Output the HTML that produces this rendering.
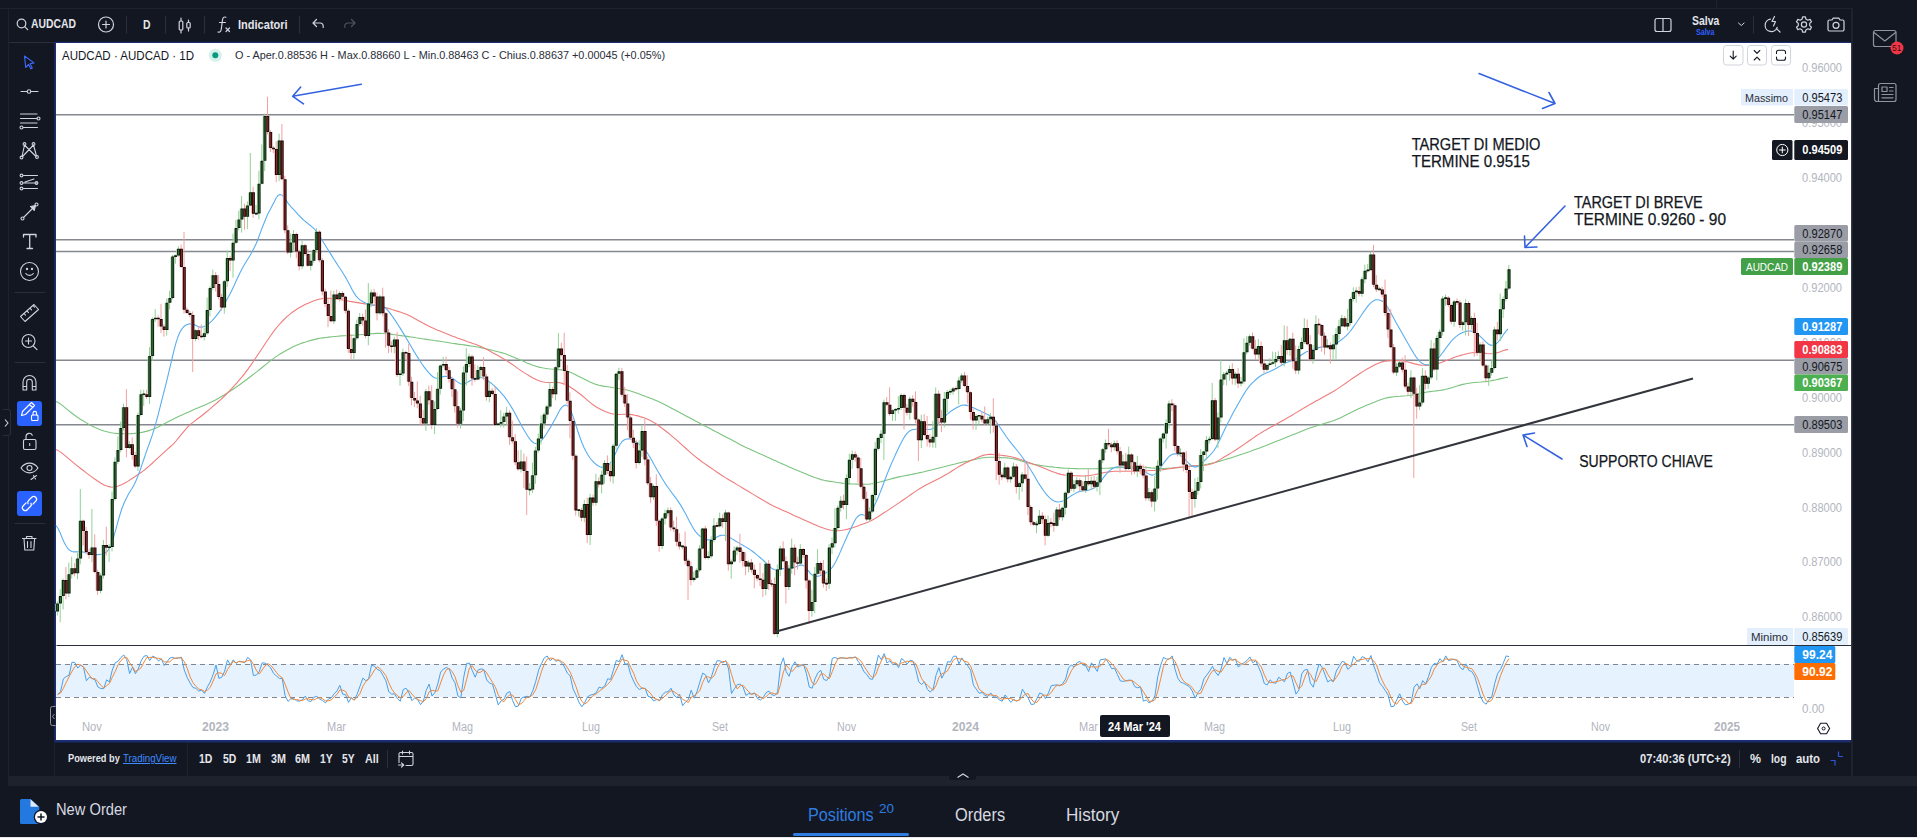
<!DOCTYPE html>
<html lang="it"><head><meta charset="utf-8"><title>AUDCAD</title>
<style>
html,body{margin:0;padding:0}
body{width:1917px;height:838px;position:relative;overflow:hidden;background:#131722;font-family:"Liberation Sans",Arial,sans-serif;color:#d1d4dc}
.abs{position:absolute}
.t{position:absolute;white-space:nowrap;line-height:1;transform-origin:0 50%}
.chart{position:absolute;left:0;top:0}
</style></head><body>
<div class="abs" style="left:0;top:8px;width:1852px;height:1px;background:#1e222d"></div>
<div class="abs" style="left:8px;top:41.5px;width:47px;height:1px;background:#2a2e39"></div>
<div class="abs" style="left:1716px;top:0;width:1px;height:8px;background:#1e222d"></div>
<div class="abs" style="left:8px;top:8px;width:1px;height:768px;background:#1e222d"></div>
<div class="abs" style="left:1851.2px;top:8px;width:1.6px;height:768px;background:#1e222d"></div>
<svg class="chart" width="1917" height="838" viewBox="0 0 1917 838" font-family="Liberation Sans, Arial, sans-serif">
<style>.ax{font-size:12px;fill:#b2b5be}</style>
<rect x="54.2" y="41.8" width="1796.9" height="700.8" rx="1.5" fill="#1b2d6e"/>
<rect x="56" y="43" width="1795.1" height="697" fill="#ffffff"/>
<text x="1802" y="72.3" class="ax" textLength="40" lengthAdjust="spacingAndGlyphs">0.96000</text><text x="1802" y="127.2" class="ax" textLength="40" lengthAdjust="spacingAndGlyphs">0.95000</text><text x="1802" y="182.1" class="ax" textLength="40" lengthAdjust="spacingAndGlyphs">0.94000</text><text x="1802" y="237.0" class="ax" textLength="40" lengthAdjust="spacingAndGlyphs">0.93000</text><text x="1802" y="291.9" class="ax" textLength="40" lengthAdjust="spacingAndGlyphs">0.92000</text><text x="1802" y="346.8" class="ax" textLength="40" lengthAdjust="spacingAndGlyphs">0.91000</text><text x="1802" y="401.7" class="ax" textLength="40" lengthAdjust="spacingAndGlyphs">0.90000</text><text x="1802" y="456.6" class="ax" textLength="40" lengthAdjust="spacingAndGlyphs">0.89000</text><text x="1802" y="511.5" class="ax" textLength="40" lengthAdjust="spacingAndGlyphs">0.88000</text><text x="1802" y="566.4" class="ax" textLength="40" lengthAdjust="spacingAndGlyphs">0.87000</text><text x="1802" y="621.3" class="ax" textLength="40" lengthAdjust="spacingAndGlyphs">0.86000</text><text x="1802" y="713.3" class="ax" textLength="22.5" lengthAdjust="spacingAndGlyphs">0.00</text>
<line x1="56" y1="114.8" x2="1794" y2="114.8" stroke="#85888f" stroke-width="1.5"/><line x1="56" y1="239.8" x2="1794" y2="239.8" stroke="#85888f" stroke-width="1.5"/><line x1="56" y1="251.5" x2="1794" y2="251.5" stroke="#85888f" stroke-width="1.5"/><line x1="56" y1="360.3" x2="1794" y2="360.3" stroke="#85888f" stroke-width="1.5"/><line x1="56" y1="424.7" x2="1794" y2="424.7" stroke="#85888f" stroke-width="1.5"/>

<rect x="56" y="664" width="1738" height="33" fill="#e6f2fd"/>
<line x1="56" y1="664.5" x2="1794" y2="664.5" stroke="#82858e" stroke-width="1" stroke-dasharray="5 4"/>
<line x1="56" y1="697.5" x2="1794" y2="697.5" stroke="#82858e" stroke-width="1" stroke-dasharray="5 4"/>
<polyline points="57.6,694.4 60.5,691.8 63.4,678.7 66.2,676.6 69.1,675.2 72,662.1 74.9,662.6 77.8,668.1 80.6,664.9 83.5,667.4 86.4,680.8 89.3,677.2 92.2,678.4 95,679.9 97.9,687 100.8,688.5 103.7,688.7 106.6,679.8 109.4,682 112.3,670.1 115.2,662.8 118.1,661.3 121,657.4 123.8,655 126.7,659.6 129.6,673.5 132.5,667.2 135.4,673.7 138.2,669 141.1,660.8 144,656.2 146.9,655.5 149.8,660.5 152.6,656.1 155.5,657.5 158.4,660.9 161.3,658.9 164.2,665.5 167,661.8 169.9,658 172.8,657.3 175.7,658.6 178.6,657.9 181.4,657.2 184.3,670.1 187.2,677.6 190.1,683 193,687.6 195.8,688.3 198.7,691.1 201.6,690 204.5,693.4 207.4,686.9 210.2,682 213.1,674.6 216,665.1 218.9,678.4 221.8,677.2 224.6,671.3 227.5,659.9 230.4,664.8 233.3,659.8 236.2,663.5 239,661.1 241.9,661.7 244.8,662.8 247.7,657.4 250.6,659.9 253.4,675.4 256.3,675.2 259.2,671.8 262.1,662.9 265,663.1 267.8,664.9 270.7,667.9 273.6,673.4 276.5,676 279.4,678.5 282.2,678.4 285.1,695.7 288,701.4 290.9,698.7 293.8,698.6 296.6,700.8 299.5,701.1 302.4,699.8 305.3,696.1 308.2,700.9 311,701.5 313.9,697.2 316.8,696.4 319.7,699.1 322.6,700.5 325.4,702.9 328.3,699.1 331.2,698 334.1,693.9 337,690.9 339.8,685.3 342.7,694.1 345.6,694.7 348.5,702.4 351.4,697.5 354.2,700.1 357.1,694.3 360,686.2 362.9,678.1 365.8,680.7 368.6,678.9 371.5,665.3 374.4,666.1 377.3,669.4 380.2,670.7 383,675.4 385.9,680.8 388.8,691.8 391.7,694 394.6,693.9 397.4,698.6 400.3,701.2 403.2,689.6 406.1,688.2 409,693 411.8,700.6 414.7,698.1 417.6,699.4 420.5,704.7 423.4,701 426.2,690.4 429.1,684.1 432,696 434.9,692.7 437.8,684 440.6,672.2 443.5,668.9 446.4,667.5 449.3,669 452.2,678.2 455,682.8 457.9,695.9 460.8,698 463.7,677.3 466.6,663.5 469.4,663.1 472.3,670.7 475.2,677.2 478.1,670 481,668.9 483.8,669.7 486.7,680 489.6,683.1 492.5,684.2 495.4,694.4 498.2,704.9 501.1,700.9 504,699.2 506.9,693.1 509.8,691.6 512.6,700.5 515.5,706.8 518.4,706 521.3,698.2 524.2,697 527,696.3 529.9,697 532.8,690.7 535.7,681.6 538.6,670.2 541.4,663.6 544.3,657.8 547.2,656 550.1,660.7 553,658.2 555.8,661.3 558.7,660.2 561.6,663.1 564.5,667 567.4,673.3 570.2,675.9 573.1,689.1 576,695 578.9,702.1 581.8,706.8 584.6,702.9 587.5,696.8 590.4,695.1 593.3,694.4 596.2,692.7 599,687.1 601.9,688.1 604.8,685.8 607.7,678.8 610.6,679.4 613.4,670.2 616.3,660.4 619.2,661.8 622.1,654.7 625,664.2 627.8,663.7 630.7,674.6 633.6,681.1 636.5,686.8 639.4,689.5 642.2,688.2 645.1,688.3 648,696.2 650.9,697.3 653.8,701.1 656.6,699.3 659.5,700.8 662.4,694.9 665.3,692.2 668.2,691.7 671,688.2 673.9,694.9 676.8,697.9 679.7,694.3 682.6,705.7 685.4,702.3 688.3,699.4 691.2,690.2 694.1,698.2 697,691.6 699.8,682.2 702.7,673.1 705.6,674.9 708.5,682.9 711.4,677.1 714.2,667.5 717.1,660.7 720,660.9 722.9,662.8 725.8,660.6 728.6,669 731.5,693.5 734.4,688.7 737.3,684.7 740.2,684.1 743,686.8 745.9,695.3 748.8,693.5 751.7,694.1 754.6,692.9 757.4,698.3 760.3,700.1 763.2,697.5 766.1,692.6 769,691.1 771.8,694.7 774.7,695.6 777.6,692 780.5,665.7 783.4,657.8 786.2,671.7 789.1,676.3 792,666.7 794.9,661.8 797.8,666.9 800.6,665.8 803.5,664.2 806.4,673.5 809.3,687.1 812.2,688.2 815,678.9 817.9,672.8 820.8,670.3 823.7,679.3 826.6,680.6 829.4,676.3 832.3,658.3 835.2,657.5 838.1,658.8 841,657.7 843.8,657.9 846.7,658.7 849.6,657.4 852.5,657.8 855.4,656.8 858.2,661.3 861.1,665.6 864,671.8 866.9,674.5 869.8,678.9 872.6,679.3 875.5,667.9 878.4,655.1 881.3,659.6 884.2,653.6 887,663 889.9,660.7 892.8,664.7 895.7,663.3 898.6,667.6 901.4,658.5 904.3,660.6 907.2,664.1 910.1,660.3 913,661.1 915.8,669.6 918.7,681.8 921.6,684.5 924.5,681.8 927.4,689.4 930.2,692 933.1,689.3 936,675.3 938.9,667.6 941.8,678.2 944.6,672.7 947.5,661.7 950.4,662.1 953.3,656.4 956.2,656.1 959,663.8 961.9,657.9 964.8,662.5 967.7,665.7 970.6,670.2 973.4,685.2 976.3,689.2 979.2,693.2 982.1,692.5 985,695.4 987.8,696.4 990.7,692.9 993.6,697 996.5,696.9 999.4,700 1002.2,701.2 1005.1,694.9 1008,698.7 1010.9,702.3 1013.8,699.4 1016.6,701.1 1019.5,699.7 1022.4,689.2 1025.3,693.8 1028.2,698 1031,704.3 1033.9,704.3 1036.8,698.7 1039.7,693 1042.6,694 1045.4,698.6 1048.3,693.3 1051.2,685.8 1054.1,685.2 1057,684.9 1059.8,685.8 1062.7,683.7 1065.6,679.1 1068.5,668 1071.4,665 1074.2,666.9 1077.1,662.7 1080,661.4 1082.9,664.9 1085.8,665.8 1088.6,671.5 1091.5,662.8 1094.4,666.9 1097.3,671.4 1100.2,659.9 1103,659.4 1105.9,658.9 1108.8,663.4 1111.7,668.7 1114.6,668.3 1117.4,674.5 1120.3,680.9 1123.2,681.4 1126.1,680.7 1129,680.1 1131.8,680.4 1134.7,686.6 1137.6,687.8 1140.5,686.9 1143.4,701.2 1146.2,700 1149.1,702.8 1152,701.1 1154.9,695.9 1157.8,676.4 1160.6,665.4 1163.5,657.4 1166.4,659 1169.3,659.2 1172.2,655.9 1175,669.1 1177.9,678.4 1180.8,682.3 1183.7,683.3 1186.6,685 1189.4,686.7 1192.3,691 1195.2,698.2 1198.1,692.3 1201,688.9 1203.8,679 1206.7,675.1 1209.6,671.1 1212.5,666.3 1215.4,672 1218.2,675.5 1221.1,669.1 1224,657.5 1226.9,663.6 1229.8,657.3 1232.6,660 1235.5,659.5 1238.4,667.1 1241.3,664.2 1244.2,662.7 1247,660.5 1249.9,656.9 1252.8,662.8 1255.7,660.6 1258.6,667.1 1261.4,673.6 1264.3,683.5 1267.2,684.9 1270.1,679.8 1273,682.6 1275.8,683.2 1278.7,677.2 1281.6,679.5 1284.5,681.7 1287.4,673.5 1290.2,672 1293.1,682.7 1296,694.1 1298.9,690 1301.8,673.7 1304.6,669.9 1307.5,669.5 1310.4,683.2 1313.3,687.2 1316.2,674.2 1319,664.1 1321.9,666.7 1324.8,674.1 1327.7,681.9 1330.6,680.1 1333.4,681.7 1336.3,671 1339.2,666.3 1342.1,661.4 1345,662.4 1347.8,669.3 1350.7,667 1353.6,656.3 1356.5,660.7 1359.4,661.3 1362.2,656.6 1365.1,657.8 1368,661.9 1370.9,655.5 1373.8,666 1376.6,673.4 1379.5,682.7 1382.4,686.2 1385.3,690.6 1388.2,695.1 1391,706.7 1393.9,706.3 1396.8,699.7 1399.7,693.8 1402.6,701.1 1405.4,704.9 1408.3,704.2 1411.2,702.2 1414.1,687.2 1417,683.8 1419.8,688.6 1422.7,680.6 1425.6,684 1428.5,676.6 1431.4,667.4 1434.2,663.4 1437.1,664.2 1440,658.7 1442.9,661.7 1445.8,655.9 1448.6,660.6 1451.5,659.8 1454.4,659.1 1457.3,661 1460.2,667.6 1463,669.8 1465.9,663.8 1468.8,670.3 1471.7,671.5 1474.6,676.1 1477.4,685.8 1480.3,695.9 1483.2,702 1486.1,704.2 1489,699.5 1491.8,696.8 1494.7,683.6 1497.6,673.5 1500.5,669.5 1503.4,662.8 1506.2,655.9 1509.1,656.7" fill="none" stroke="#4a9fe8" stroke-width="1"/>
<polyline points="57.6,694.4 60.5,693.1 63.4,688.3 66.2,682.4 69.1,676.8 72,671.3 74.9,666.6 77.8,664.2 80.6,665.2 83.5,666.8 86.4,671 89.3,675.1 92.2,678.8 95,678.5 97.9,681.8 100.8,685.2 103.7,688.1 106.6,685.7 109.4,683.5 112.3,677.3 115.2,671.6 118.1,664.7 121,660.5 123.8,657.9 126.7,657.3 129.6,662.7 132.5,666.8 135.4,671.5 138.2,670 141.1,667.8 144,662 146.9,657.5 149.8,657.4 152.6,657.4 155.5,658 158.4,658.2 161.3,659.1 164.2,661.8 167,662.1 169.9,661.8 172.8,659 175.7,658 178.6,657.9 181.4,657.9 184.3,661.7 187.2,668.3 190.1,676.9 193,682.7 195.8,686.3 198.7,689 201.6,689.8 204.5,691.5 207.4,690.1 210.2,687.4 213.1,681.1 216,673.9 218.9,672.7 221.8,673.5 224.6,675.6 227.5,669.5 230.4,665.3 233.3,661.5 236.2,662.7 239,661.4 241.9,662.1 244.8,661.8 247.7,660.6 250.6,660 253.4,664.2 256.3,670.2 259.2,674.1 262.1,670 265,665.9 267.8,663.6 270.7,665.3 273.6,668.7 276.5,672.5 279.4,676 282.2,677.6 285.1,684.2 288,691.8 290.9,698.6 293.8,699.6 296.6,699.4 299.5,700.2 302.4,700.6 305.3,699 308.2,698.9 311,699.5 313.9,699.9 316.8,698.4 319.7,697.6 322.6,698.7 325.4,700.8 328.3,700.8 331.2,700 334.1,697 337,694.3 339.8,690 342.7,690.1 345.6,691.3 348.5,697.1 351.4,698.2 354.2,700 357.1,697.3 360,693.5 362.9,686.2 365.8,681.6 368.6,679.2 371.5,675 374.4,670.1 377.3,666.9 380.2,668.7 383,671.8 385.9,675.6 388.8,682.7 391.7,688.9 394.6,693.2 397.4,695.5 400.3,697.9 403.2,696.5 406.1,693 409,690.3 411.8,693.9 414.7,697.2 417.6,699.4 420.5,700.7 423.4,701.7 426.2,698.7 429.1,691.9 432,690.2 434.9,691 437.8,690.9 440.6,683 443.5,675 446.4,669.6 449.3,668.5 452.2,671.6 455,676.7 457.9,685.6 460.8,692.2 463.7,690.4 466.6,679.6 469.4,668 472.3,665.8 475.2,670.3 478.1,672.6 481,672 483.8,669.6 486.7,672.9 489.6,677.6 492.5,682.4 495.4,687.2 498.2,694.5 501.1,700.1 504,701.7 506.9,697.7 509.8,694.6 512.6,695.1 515.5,699.6 518.4,704.5 521.3,703.7 524.2,700.4 527,697.2 529.9,696.8 532.8,694.7 535.7,689.8 538.6,680.9 541.4,671.8 544.3,663.9 547.2,659.1 550.1,658.1 553,658.3 555.8,660.1 558.7,659.9 561.6,661.5 564.5,663.4 567.4,667.8 570.2,672.1 573.1,679.4 576,686.6 578.9,695.4 581.8,701.3 584.6,704 587.5,702.2 590.4,698.3 593.3,695.4 596.2,694 599,691.4 601.9,689.3 604.8,687 607.7,684.2 610.6,681.3 613.4,676.1 616.3,670 619.2,664.1 622.1,659 625,660.3 627.8,660.9 630.7,667.5 633.6,673.1 636.5,680.9 639.4,685.8 642.2,688.2 645.1,688.7 648,690.9 650.9,693.9 653.8,698.2 656.6,699.2 659.5,700.4 662.4,698.3 665.3,695.9 668.2,692.9 671,690.7 673.9,691.6 676.8,693.7 679.7,695.7 682.6,699.3 685.4,700.8 688.3,702.5 691.2,697.3 694.1,695.9 697,693.3 699.8,690.7 702.7,682.3 705.6,676.7 708.5,677 711.4,678.3 714.2,675.8 717.1,668.4 720,663 722.9,661.5 725.8,661.5 728.6,664.1 731.5,674.4 734.4,683.7 737.3,689 740.2,685.8 743,685.2 745.9,688.7 748.8,691.9 751.7,694.3 754.6,693.5 757.4,695.1 760.3,697.1 763.2,698.6 766.1,696.7 769,693.7 771.8,692.8 774.7,693.8 777.6,694.1 780.5,684.5 783.4,671.9 786.2,665.1 789.1,668.6 792,671.6 794.9,668.3 797.8,665.2 800.6,664.8 803.5,665.6 806.4,667.8 809.3,674.9 812.2,682.9 815,684.7 817.9,680 820.8,674 823.7,674.1 826.6,676.7 829.4,678.7 832.3,671.7 835.2,664 838.1,658.2 841,658 843.8,658.1 846.7,658.1 849.6,658 852.5,658 855.4,657.4 858.2,658.6 861.1,661.2 864,666.2 866.9,670.6 869.8,675.1 872.6,677.6 875.5,675.4 878.4,667.4 881.3,660.9 884.2,656.1 887,658.7 889.9,659.1 892.8,662.8 895.7,662.9 898.6,665.2 901.4,663.1 904.3,662.2 907.2,661.1 910.1,661.7 913,661.9 915.8,663.7 918.7,670.8 921.6,678.6 924.5,682.7 927.4,685.2 930.2,687.7 933.1,690.3 936,685.6 938.9,677.4 941.8,673.7 944.6,672.8 947.5,670.9 950.4,665.5 953.3,660.1 956.2,658.2 959,658.8 961.9,659.3 964.8,661.4 967.7,662 970.6,666.1 973.4,673.7 976.3,681.6 979.2,689.2 982.1,691.6 985,693.7 987.8,694.8 990.7,694.9 993.6,695.4 996.5,695.6 999.4,698 1002.2,699.4 1005.1,698.7 1008,698.3 1010.9,698.6 1013.8,700.1 1016.6,700.9 1019.5,700.1 1022.4,696.7 1025.3,694.2 1028.2,693.6 1031,698.7 1033.9,702.2 1036.8,702.4 1039.7,698.7 1042.6,695.2 1045.4,695.2 1048.3,695.3 1051.2,692.6 1054.1,688.1 1057,685.3 1059.8,685.3 1062.7,684.8 1065.6,682.9 1068.5,676.9 1071.4,670.7 1074.2,666.6 1077.1,664.9 1080,663.7 1082.9,663 1085.8,664 1088.6,667.4 1091.5,666.7 1094.4,667.1 1097.3,667 1100.2,666 1103,663.6 1105.9,659.4 1108.8,660.5 1111.7,663.6 1114.6,666.8 1117.4,670.5 1120.3,674.6 1123.2,679 1126.1,681 1129,680.7 1131.8,680.4 1134.7,682.4 1137.6,684.9 1140.5,687.1 1143.4,691.9 1146.2,696 1149.1,701.3 1152,701.3 1154.9,699.9 1157.8,691.1 1160.6,679.2 1163.5,666.4 1166.4,660.6 1169.3,658.5 1172.2,658 1175,661.4 1177.9,667.8 1180.8,676.6 1183.7,681.3 1186.6,683.5 1189.4,685 1192.3,687.6 1195.2,692 1198.1,693.8 1201,693.1 1203.8,686.7 1206.7,681 1209.6,675.1 1212.5,670.9 1215.4,669.8 1218.2,671.3 1221.1,672.2 1224,667.4 1226.9,663.4 1229.8,659.5 1232.6,660.3 1235.5,658.9 1238.4,662.2 1241.3,663.6 1244.2,664.7 1247,662.5 1249.9,660 1252.8,660.1 1255.7,660.1 1258.6,663.5 1261.4,667.1 1264.3,674.7 1267.2,680.7 1270.1,682.7 1273,682.4 1275.8,681.8 1278.7,681 1281.6,680 1284.5,679.5 1287.4,678.2 1290.2,675.7 1293.1,676 1296,682.9 1298.9,688.9 1301.8,685.9 1304.6,677.9 1307.5,671 1310.4,674.2 1313.3,680 1316.2,681.5 1319,675.2 1321.9,668.4 1324.8,668.3 1327.7,674.3 1330.6,678.7 1333.4,681.2 1336.3,677.6 1339.2,673 1342.1,666.2 1345,663.4 1347.8,664.4 1350.7,666.3 1353.6,664.2 1356.5,661.4 1359.4,659.5 1362.2,659.6 1365.1,658.6 1368,658.8 1370.9,658.4 1373.8,661.1 1376.6,665 1379.5,674 1382.4,680.8 1385.3,686.5 1388.2,690.6 1391,697.5 1393.9,702.7 1396.8,704.2 1399.7,699.9 1402.6,698.2 1405.4,699.9 1408.3,703.4 1411.2,703.7 1414.1,697.9 1417,691.1 1419.8,686.5 1422.7,684.3 1425.6,684.4 1428.5,680.4 1431.4,676 1434.2,669.1 1437.1,665 1440,662.1 1442.9,661.5 1445.8,658.8 1448.6,659.4 1451.5,658.8 1454.4,659.8 1457.3,660 1460.2,662.6 1463,666.1 1465.9,667.1 1468.8,668 1471.7,668.6 1474.6,672.7 1477.4,677.8 1480.3,685.9 1483.2,694.5 1486.1,700.7 1489,701.9 1491.8,700.2 1494.7,693.3 1497.6,684.7 1500.5,675.6 1503.4,668.6 1506.2,662.8 1509.1,658.5" fill="none" stroke="#f0883a" stroke-width="1"/>


<polyline points="56,401.5 59,403 62,405.1 65,407.6 68,410.1 71,412.5 74,414.8 77,417 80,419 83,420.8 86,422.6 89,424.4 92,426 95,427.5 98,428.8 101,430 104,431 107,431.8 110,432.5 113,433 116,433.4 119,433.6 122,433.7 125,433.8 128,433.7 131,433.6 134,433.4 137,433.1 140,432.7 143,432.1 146,431.4 149,430.6 152,429.6 155,428.4 158,427 161,425.5 164,423.9 167,422.3 170,420.7 173,419.2 176,417.7 179,416.2 182,414.9 185,413.6 188,412.2 191,410.9 194,409.6 197,408.3 200,407 203,405.7 206,404.4 209,403.1 212,401.7 215,400.2 218,398.6 221,396.8 224,395 227,393.1 230,391.2 233,389.3 236,387.3 239,385.2 242,383 245,380.8 248,378.5 251,376.2 254,373.9 257,371.6 260,369.2 263,366.8 266,364.4 269,361.9 272,359.6 275,357.4 278,355.4 281,353.5 284,351.8 287,350.1 290,348.4 293,346.8 296,345.4 299,344.2 302,343.1 305,342.2 308,341.2 311,340.4 314,339.6 317,338.9 320,338.3 323,337.9 326,337.5 329,337.1 332,336.8 335,336.5 338,336.2 341,335.9 344,335.8 347,335.6 350,335.4 353,335.2 356,335 359,334.7 362,334.5 365,334.3 368,334 371,333.8 374,333.6 377,333.4 380,333.4 383,333.5 386,333.7 389,334 392,334.4 395,334.8 398,335.2 401,335.6 404,336 407,336.4 410,336.9 413,337.3 416,337.8 419,338.2 422,338.7 425,339.1 428,339.6 431,340 434,340.5 437,340.9 440,341.3 443,341.8 446,342.2 449,342.7 452,343.2 455,343.6 458,344.1 461,344.5 464,344.9 467,345.4 470,345.9 473,346.3 476,346.8 479,347.3 482,347.9 485,348.5 488,349.2 491,350 494,350.8 497,351.5 500,352.2 503,353.1 506,354.1 509,355.2 512,356.4 515,357.7 518,359 521,360.3 524,361.6 527,362.9 530,364.1 533,365.3 536,366.3 539,367.1 542,367.8 545,368.3 548,368.7 551,369 554,369.2 557,369.4 560,369.6 563,370.1 566,370.8 569,371.8 572,373 575,374.5 578,376 581,377.5 584,379 587,380.5 590,382 593,383.3 596,384.4 599,385.3 602,385.9 605,386.4 608,386.8 611,387.3 614,387.8 617,388.2 620,388.7 623,389.2 626,389.8 629,390.5 632,391.4 635,392.4 638,393.6 641,394.7 644,395.8 647,396.9 650,398.1 653,399.2 656,400.4 659,401.8 662,403.2 665,404.7 668,406.3 671,407.9 674,409.5 677,411.1 680,412.7 683,414.3 686,415.9 689,417.5 692,419.1 695,420.7 698,422.3 701,423.9 704,425.5 707,427 710,428.6 713,430.2 716,431.8 719,433.3 722,434.9 725,436.5 728,438.1 731,439.6 734,441.2 737,442.8 740,444.4 743,445.9 746,447.4 749,448.8 752,450.2 755,451.6 758,452.9 761,454.2 764,455.6 767,457 770,458.3 773,459.7 776,461 779,462.4 782,463.7 785,465.1 788,466.4 791,467.7 794,469.1 797,470.3 800,471.6 803,472.8 806,474 809,475.2 812,476.4 815,477.6 818,478.6 821,479.6 824,480.3 827,480.9 830,481.4 833,481.8 836,482.3 839,482.7 842,483.1 845,483.4 848,483.7 851,483.9 854,484 857,484.1 860,484.2 863,484.3 866,484.3 869,484.1 872,483.8 875,483.3 878,482.5 881,481.7 884,480.9 887,480 890,479.2 893,478.4 896,477.6 899,476.9 902,476.3 905,475.7 908,475.1 911,474.5 914,473.9 917,473.3 920,472.6 923,472 926,471.2 929,470.5 932,469.8 935,469 938,468.2 941,467.5 944,466.8 947,466 950,465.2 953,464.5 956,463.8 959,463 962,462.3 965,461.6 968,461 971,460.3 974,459.6 977,459 980,458.3 983,457.8 986,457.5 989,457.3 992,457.2 995,457.4 998,457.5 1001,457.6 1004,457.7 1007,457.9 1010,458.3 1013,458.8 1016,459.4 1019,460.2 1022,461.1 1025,461.9 1028,462.8 1031,463.6 1034,464.3 1037,464.9 1040,465.4 1043,465.8 1046,466.2 1049,466.6 1052,466.9 1055,467.3 1058,467.6 1061,467.9 1064,468.1 1067,468.2 1070,468.4 1073,468.5 1076,468.6 1079,468.7 1082,468.8 1085,468.8 1088,468.8 1091,468.8 1094,468.7 1097,468.6 1100,468.4 1103,468.3 1106,468.2 1109,468.1 1112,467.9 1115,467.8 1118,467.6 1121,467.4 1124,467.2 1127,467 1130,466.9 1133,466.8 1136,466.8 1139,466.9 1142,467 1145,467.3 1148,467.6 1151,467.9 1154,468.1 1157,468.3 1160,468.4 1163,468.5 1166,468.4 1169,468.2 1172,468 1175,467.8 1178,467.6 1181,467.3 1184,467.1 1187,466.8 1190,466.5 1193,466.1 1196,465.7 1199,465.3 1202,464.9 1205,464.5 1208,464 1211,463.4 1214,462.7 1217,461.9 1220,461.1 1223,460.2 1226,459.3 1229,458.4 1232,457.4 1235,456.5 1238,455.5 1241,454.5 1244,453.5 1247,452.4 1250,451.4 1253,450.3 1256,449.2 1259,448.2 1262,447 1265,445.9 1268,444.7 1271,443.5 1274,442.3 1277,441.1 1280,439.9 1283,438.7 1286,437.5 1289,436.3 1292,435.1 1295,433.9 1298,432.7 1301,431.5 1304,430.3 1307,429.1 1310,428 1313,427 1316,426 1319,425.1 1322,424.2 1325,423.3 1328,422.4 1331,421.5 1334,420.4 1337,419.2 1340,417.9 1343,416.5 1346,415 1349,413.5 1352,412 1355,410.5 1358,409.1 1361,407.7 1364,406.4 1367,405.1 1370,403.9 1373,402.7 1376,401.5 1379,400.3 1382,399.2 1385,398.3 1388,397.6 1391,397.1 1394,396.8 1397,396.5 1400,396.3 1403,396 1406,395.8 1409,395.5 1412,395.1 1415,394.5 1418,393.9 1421,393.2 1424,392.6 1427,392 1430,391.6 1433,391.2 1436,390.9 1439,390.5 1442,390.1 1445,389.5 1448,388.7 1451,387.9 1454,386.9 1457,386 1460,385.1 1463,384.4 1466,383.8 1469,383.2 1472,382.8 1475,382.5 1478,382.2 1481,382 1484,381.7 1487,381.4 1490,381 1493,380.4 1496,379.8 1499,379.1 1502,378.4 1505,377.8 1508,377.3" fill="none" stroke="#7cc47f" stroke-width="1.1"/>
<polyline points="56,449.5 59,451.1 62,453.1 65,455.7 68,458.2 71,460.7 74,463.2 77,465.6 80,468 83,470.3 86,472.6 89,474.9 92,477.1 95,479.3 98,481.3 101,483.2 104,484.9 107,486.1 110,486.9 113,487.2 116,486.8 119,485.8 122,484.5 125,482.9 128,481.1 131,479.2 134,477.3 137,475.3 140,473.3 143,471.1 146,468.7 149,466.2 152,463.5 155,460.7 158,457.9 161,455.1 164,452.4 167,449.7 170,447 173,444.3 176,441 179,437.3 182,433.6 185,430.1 188,426.6 191,423.8 194,421.6 197,419.3 200,417 203,414.7 206,412.3 209,409.8 212,407.2 215,404.6 218,402 221,399.3 224,396.5 227,393.5 230,390.4 233,387.1 236,383.8 239,380.4 242,376.9 245,373.1 248,369.1 251,364.9 254,360.5 257,356 260,351.5 263,347 266,342.5 269,338 272,333.7 275,329.7 278,326 281,322.6 284,319.5 287,316.7 290,314.1 293,311.8 296,309.7 299,307.8 302,306.2 305,304.6 308,303.2 311,301.9 314,300.7 317,299.7 320,299 323,298.5 326,298.3 329,298.4 332,298.6 335,298.9 338,299.3 341,299.7 344,300.2 347,300.8 350,301.4 353,301.9 356,302.4 359,302.9 362,303.4 365,303.9 368,304.3 371,304.8 374,305.2 377,305.7 380,306.3 383,307 386,307.8 389,308.6 392,309.6 395,310.5 398,311.4 401,312.3 404,313.4 407,314.6 410,316.1 413,317.6 416,319.2 419,320.9 422,322.6 425,324.2 428,325.8 431,327.2 434,328.6 437,329.9 440,331.1 443,332.3 446,333.5 449,334.7 452,335.9 455,337 458,338.2 461,339.2 464,340.3 467,341.4 470,342.4 473,343.5 476,344.5 479,345.8 482,347.1 485,348.5 488,350.1 491,351.8 494,353.4 497,355.1 500,356.7 503,358.4 506,360.3 509,362.2 512,364.3 515,366.4 518,368.6 521,370.6 524,372.6 527,374.4 530,376.2 533,377.9 536,379.5 539,380.8 542,381.7 545,382.3 548,382.5 551,382.5 554,382.5 557,382.5 560,382.8 563,383.6 566,384.7 569,386.2 572,388.2 575,390.3 578,392.5 581,394.8 584,397.2 587,399.8 590,402.4 593,404.7 596,406.7 599,408.5 602,410.1 605,411.4 608,412.6 611,413.5 614,414.2 617,414.5 620,414.5 623,414.3 626,414.2 629,414.3 632,414.6 635,415.2 638,415.9 641,416.9 644,417.8 647,418.9 650,420.3 653,421.9 656,423.8 659,426 662,428.2 665,430.5 668,432.8 671,435.3 674,437.8 677,440.4 680,443.1 683,445.8 686,448.5 689,451.2 692,453.8 695,456.3 698,458.7 701,461 704,463.1 707,465.2 710,467.3 713,469.4 716,471.5 719,473.5 722,475.5 725,477.4 728,479.2 731,481 734,482.8 737,484.6 740,486.4 743,488.2 746,490 749,491.8 752,493.6 755,495.4 758,497.2 761,499 764,500.8 767,502.5 770,504.2 773,505.8 776,507.2 779,508.6 782,510 785,511.3 788,512.6 791,514 794,515.4 797,516.7 800,518.1 803,519.4 806,520.8 809,522.1 812,523.5 815,524.8 818,526.1 821,527.2 824,528.3 827,529.3 830,530 833,530.5 836,530.7 839,530.7 842,530.3 845,529.8 848,529.1 851,528.2 854,527.2 857,526.2 860,525.1 863,524.1 866,522.9 869,521.7 872,520.2 875,518.5 878,516.7 881,514.8 884,512.8 887,510.9 890,508.9 893,506.9 896,504.9 899,502.9 902,500.8 905,498.7 908,496.6 911,494.5 914,492.4 917,490.4 920,488.5 923,486.7 926,485 929,483.5 932,482 935,480.5 938,479 941,477.5 944,475.8 947,474.1 950,472.3 953,470.3 956,468.4 959,466.6 962,464.9 965,463.3 968,461.9 971,460.5 974,459.2 977,457.8 980,456.5 983,455.4 986,454.7 989,454.4 992,454.4 995,454.7 998,455 1001,455.3 1004,455.6 1007,456 1010,456.5 1013,457.2 1016,458.1 1019,459.1 1022,460.1 1025,461.1 1028,462.2 1031,463.3 1034,464.4 1037,465.5 1040,466.6 1043,467.8 1046,469 1049,470.2 1052,471.4 1055,472.6 1058,473.6 1061,474.4 1064,474.9 1067,475.3 1070,475.5 1073,475.6 1076,475.8 1079,475.9 1082,476 1085,475.9 1088,475.6 1091,475.2 1094,474.7 1097,474.1 1100,473.4 1103,472.8 1106,472.3 1109,471.9 1112,471.5 1115,471.3 1118,471.2 1121,471.2 1124,471.2 1127,471.2 1130,471.2 1133,471.2 1136,471.2 1139,471.1 1142,471 1145,470.8 1148,470.7 1151,470.5 1154,470.4 1157,470.2 1160,469.9 1163,469.6 1166,469.2 1169,468.8 1172,468.4 1175,467.9 1178,467.4 1181,467 1184,466.7 1187,466.3 1190,466.1 1193,465.9 1196,465.8 1199,465.6 1202,465.5 1205,465.3 1208,464.8 1211,464 1214,462.9 1217,461.4 1220,459.6 1223,457.8 1226,456 1229,454.2 1232,452.4 1235,450.5 1238,448.5 1241,446.5 1244,444.4 1247,442.3 1250,440.2 1253,438.1 1256,436 1259,434.1 1262,432.2 1265,430.4 1268,428.7 1271,427 1274,425.4 1277,423.7 1280,422.1 1283,420.4 1286,418.7 1289,416.9 1292,415.2 1295,413.4 1298,411.6 1301,409.8 1304,407.9 1307,406.2 1310,404.4 1313,402.7 1316,401 1319,399.4 1322,397.7 1325,396.1 1328,394.4 1331,392.7 1334,391 1337,389.1 1340,387.1 1343,385.1 1346,383 1349,380.9 1352,378.8 1355,376.7 1358,374.7 1361,372.7 1364,370.9 1367,369.1 1370,367.4 1373,365.8 1376,364.2 1379,362.9 1382,361.9 1385,361.3 1388,360.9 1391,360.8 1394,360.7 1397,360.6 1400,360.7 1403,361 1406,361.5 1409,362.2 1412,363.1 1415,363.9 1418,364.6 1421,365.1 1424,365.3 1427,365.4 1430,365.2 1433,364.7 1436,364.1 1439,363.3 1442,362.2 1445,361.1 1448,359.9 1451,358.8 1454,357.6 1457,356.6 1460,355.6 1463,354.7 1466,354 1469,353.3 1472,352.8 1475,352.6 1478,352.6 1481,352.8 1484,353.1 1487,353.5 1490,353.7 1493,353.5 1496,353 1499,352.2 1502,351.1 1505,350.1 1508,349.4" fill="none" stroke="#ef7d7d" stroke-width="1.1"/>
<polyline points="56,525.5 58,528.5 60,532.5 62,537.5 64,541.9 66,545.7 68,548.7 70,550.6 72,551.5 74,551.9 76,551.9 78,551.7 80,551.7 82,551.9 84,552.2 86,552.8 88,553.4 90,553.9 92,554.3 94,554.6 96,554.6 98,554.6 100,554.4 102,554.2 104,553.4 106,552.2 108,550.4 110,547.1 112,542 114,535.8 116,528.9 118,521.4 120,514.5 122,508.3 124,503.3 126,498.9 128,495 130,491.5 132,488.5 134,484.9 136,480.7 138,475.9 140,470.5 142,464.6 144,458.7 146,452.9 148,447.1 150,441.7 152,435.9 154,429.6 156,422.6 158,415.3 160,407.3 162,399.4 164,391.6 166,383.8 168,375.7 170,367.1 172,358.6 174,350.4 176,342.9 178,336.7 180,332.1 182,328.8 184,326.5 186,325 188,324.2 190,323.9 192,324 194,324.6 196,325.6 198,326.6 200,327.1 202,327.1 204,326.6 206,325.6 208,324.2 210,322.6 212,320.8 214,318.6 216,316.2 218,313.6 220,310.9 222,307.9 224,304.7 226,301.3 228,297.6 230,293.9 232,289.9 234,285.7 236,281.2 238,276.9 240,272.8 242,268.9 244,265.3 246,262 248,258.8 250,255.5 252,252 254,248.1 256,243.9 258,239.2 260,233.6 262,228.3 264,223.2 266,218.2 268,213.6 270,209.9 272,206 274,202.2 276,198.3 278,195.5 280,194.5 282,195.2 284,197 286,200.1 288,203.1 290,205.7 292,207.8 294,209.9 296,212.1 298,214.4 300,216.5 302,218.5 304,220.3 306,222 308,223.6 310,225.2 312,226.8 314,228.7 316,231 318,233.7 320,236.7 322,240 324,243.2 326,246.5 328,249.7 330,252.9 332,256.1 334,259.3 336,262.4 338,265.5 340,268.5 342,271.5 344,274.7 346,278.1 348,281.7 350,285.5 352,289.5 354,292.9 356,295.8 358,298.1 360,299.9 362,301.1 364,302.3 366,303.3 368,304.1 370,304.6 372,304.9 374,305 376,305 378,305 380,305.1 382,305.8 384,306.9 386,308.5 388,310.6 390,313.2 392,315.8 394,318.6 396,321.6 398,324.7 400,327.9 402,331.1 404,334.4 406,337.7 408,341.1 410,344.5 412,348 414,351.4 416,354.7 418,357.9 420,361 422,364 424,366.8 426,369.4 428,371.8 430,374 432,376 434,377.4 436,378.2 438,378.4 440,378 442,377 444,376.4 446,376.2 448,376.4 450,377 452,378 454,379.3 456,380.9 458,382.4 460,383.5 462,384.1 464,384 466,383.1 468,381.9 470,380.8 472,379.8 474,378.9 476,378.1 478,377.6 480,377.4 482,377.7 484,378.3 486,379.4 488,380.7 490,382.2 492,383.8 494,385.6 496,387.5 498,389.5 500,391.6 502,393.8 504,396.2 506,398.9 508,401.8 510,404.8 512,408.1 514,411.5 516,415.2 518,419 520,422.8 522,426.5 524,430 526,433.3 528,436.5 530,439.4 532,441.5 534,442.9 536,443.6 538,443.2 540,441.8 542,439.9 544,437.4 546,434.5 548,431.3 550,428.1 552,424.7 554,421.1 556,417.4 558,413.5 560,409.8 562,407.1 564,405.5 566,405 568,406.1 570,409.2 572,413.6 574,419.1 576,425.4 578,431.8 580,437.5 582,442.7 584,447.4 586,451.5 588,455 590,458 592,460.5 594,462.5 596,464.3 598,465.8 600,466.8 602,467.4 604,467.4 606,466.9 608,465.7 610,463.5 612,460.5 614,456.5 616,452.2 618,448 620,444.5 622,441.7 624,440 626,439.2 628,438.8 630,439 632,439.8 634,440.7 636,441.9 638,443.2 640,444.8 642,446.5 644,448.6 646,451.1 648,454 650,457.2 652,460.8 654,464.4 656,468 658,471.5 660,474.9 662,478.3 664,481.5 666,484.6 668,487.5 670,490.3 672,493 674,495.7 676,498.3 678,501.1 680,504.1 682,507.4 684,510.9 686,514.6 688,518.4 690,522.2 692,526.1 694,529.4 696,532.2 698,534.4 700,536.2 702,537.4 704,538.6 706,539.4 708,539.9 710,539.8 712,539.4 714,538.5 716,537.5 718,536.5 720,535.6 722,535.2 724,535.2 726,535.6 728,536.5 730,537.6 732,538.9 734,540 736,541.2 738,542.4 740,543.6 742,544.8 744,545.9 746,547.1 748,548.3 750,549.6 752,551 754,552.5 756,554.2 758,555.8 760,557.5 762,559.2 764,561 766,562.9 768,565 770,567 772,568.6 774,569.6 776,570 778,569.8 780,569.3 782,568.9 784,568.5 786,568.3 788,568.2 790,568 792,567.8 794,567.4 796,566.8 798,565.9 800,565.1 802,565 804,565.9 806,567.8 808,570.4 810,573 812,574.8 814,575.9 816,576.2 818,576.1 820,575.7 822,575 824,574 826,572.8 828,571.4 830,569.8 832,567.6 834,564.8 836,561.3 838,557.1 840,552.6 842,548 844,543.4 846,539 848,534.6 850,530.4 852,526.2 854,522 856,518.5 858,516.2 860,514.8 862,514.5 864,515.2 866,515.5 868,514.8 870,513 872,510.3 874,506.5 876,502.3 878,497.8 880,492.9 882,487.8 884,482.4 886,477 888,471.9 890,467 892,462.4 894,457.9 896,453.5 898,449.2 900,445.1 902,441.3 904,437.6 906,434.6 908,432.4 910,430.8 912,429.8 914,429.5 916,429.2 918,429.1 920,429 922,429 924,429.1 926,429.2 928,429.5 930,429.5 932,428.9 934,427.8 936,426.3 938,424.2 940,421.9 942,419.7 944,417.5 946,415.4 948,413.6 950,411.9 952,410.5 954,409.3 956,408.1 958,407 960,405.9 962,405.2 964,405 966,405.1 968,405.6 970,406.5 972,407.3 974,408.1 976,409 978,409.9 980,410.8 982,411.8 984,412.8 986,413.8 988,414.8 990,415.9 992,417.4 994,419.2 996,421.6 998,424.2 1000,427.2 1002,430.2 1004,433.2 1006,436.2 1008,439 1010,441.6 1012,444.2 1014,446.6 1016,449 1018,451.5 1020,454 1022,456.7 1024,459.6 1026,462.5 1028,465.6 1030,468.7 1032,472 1034,475.3 1036,478.8 1038,482.2 1040,485.4 1042,488.4 1044,491.3 1046,493.9 1048,496.2 1050,498.1 1052,499.8 1054,500.9 1056,501.6 1058,502 1060,501.8 1062,501.2 1064,500.4 1066,499.3 1068,498 1070,496.6 1072,495.3 1074,494.1 1076,492.9 1078,492 1080,491.4 1082,491 1084,490.8 1086,490.6 1088,490.2 1090,489.7 1092,489 1094,488.1 1096,486.7 1098,484.9 1100,482.5 1102,479.7 1104,476.9 1106,474.4 1108,472.2 1110,470.3 1112,468.8 1114,467.7 1116,467 1118,466.7 1120,466.8 1122,467.3 1124,467.7 1126,468 1128,468.2 1130,468.3 1132,468.3 1134,468.5 1136,468.7 1138,469.1 1140,469.7 1142,470.3 1144,471.2 1146,472.3 1148,473.6 1150,474.6 1152,475.1 1154,474.7 1156,473.4 1158,471.2 1160,468.4 1162,465.5 1164,462.7 1166,460.1 1168,457.7 1170,455.7 1172,454.6 1174,453.9 1176,453.8 1178,454.1 1180,455.1 1182,456.5 1184,458.3 1186,460.4 1188,462.6 1190,464.5 1192,466.1 1194,466.9 1196,466.9 1198,466.4 1200,465.1 1202,463.1 1204,461.1 1206,459 1208,457.1 1210,455.1 1212,453 1214,450.5 1216,447.3 1218,443.6 1220,439.6 1222,435.3 1224,431 1226,426.8 1228,422.8 1230,418.9 1232,415 1234,411.3 1236,407.7 1238,404.2 1240,400.7 1242,397.3 1244,393.9 1246,390.7 1248,387.9 1250,385.4 1252,383.2 1254,381.3 1256,379.5 1258,377.8 1260,376.3 1262,375 1264,373.9 1266,373 1268,372.2 1270,371.4 1272,370.5 1274,369.5 1276,368.4 1278,367.3 1280,366.1 1282,364.9 1284,363.8 1286,362.8 1288,361.9 1290,361.2 1292,360.5 1294,359.6 1296,358.6 1298,357.4 1300,356 1302,354.5 1304,353.2 1306,352.1 1308,351.2 1310,350.5 1312,349.8 1314,349.1 1316,348.5 1318,347.9 1320,347.4 1322,346.9 1324,346.5 1326,346.2 1328,345.9 1330,345.6 1332,345.1 1334,344.4 1336,343.4 1338,342.2 1340,340.8 1342,339.3 1344,337.7 1346,335.9 1348,333.8 1350,331.5 1352,328.9 1354,326.1 1356,323.2 1358,320.3 1360,317.3 1362,314.3 1364,311.4 1366,308.6 1368,305.9 1370,303.6 1372,301.9 1374,300.6 1376,299.8 1378,299.8 1380,300.3 1382,301 1384,302.6 1386,305 1388,307.9 1390,311.3 1392,315.1 1394,318.8 1396,322.5 1398,326 1400,329.5 1402,333 1404,336.5 1406,340 1408,343.5 1410,347 1412,350.4 1414,353.8 1416,356.9 1418,359.5 1420,361.6 1422,363.2 1424,364.3 1426,364.8 1428,364.9 1430,364.7 1432,363.9 1434,362.5 1436,360.8 1438,358.7 1440,356.1 1442,353.5 1444,350.8 1446,348 1448,345.4 1450,342.8 1452,340.4 1454,338.3 1456,336.6 1458,335.1 1460,333.8 1462,332.8 1464,332 1466,331.4 1468,331 1470,331 1472,331.4 1474,332.1 1476,333.1 1478,334.5 1480,336.2 1482,338.1 1484,340.1 1486,342.2 1488,343.8 1490,344.9 1492,345.4 1494,345.1 1496,343.9 1498,342.1 1500,339.8 1502,336.9 1504,333.8 1506,331.1 1508,329" fill="none" stroke="#5aaef0" stroke-width="1.1"/>


<path d="M57.3 601.2V615.5M60.2 589.1V622.2M63.1 578.6V609.5M68.8 562.5V597.1M71.7 556.7V578.5M77.5 552.7V579.3M80.3 489V564.3M91.9 509V562M100.5 573.2V593.2M103.4 540V578.6M109.1 544V561.9M112 491.5V551.4M114.9 457.2V500.6M117.8 436.5V464.3M120.7 421.6V452.3M123.5 403.7V430.7M129.3 441.1V449.2M137.9 412.8V471.1M140.8 389.7V416.5M143.7 389.9V405.9M149.5 347.2V403.8M152.3 317.3V361M155.2 309.1V322M166.7 298.7V335.5M169.6 290.7V309.5M172.5 254.8V299.3M175.4 254.5V263.7M178.3 246.2V256.8M195.5 329.3V341.2M204.2 327.6V340.5M207.1 297.6V334.9M209.9 286.1V316.4M212.8 269.5V290.3M224.3 279.8V313.7M227.2 250.5V287.1M233 233.5V277.6M235.9 220V243.9M238.7 210.9V230.5M241.6 196.1V232.6M247.4 201.4V229M250.3 153V206.3M256 205V215.4M258.9 170.7V219.4M261.8 144.4V184.5M264.7 113.6V171.1M279.1 133.6V181.2M290.6 233.5V257.4M293.5 230.1V250.4M302.1 240.8V269.1M310.7 253.8V270.5M313.6 249V262.8M316.5 228.2V252.8M333.8 290.6V324M339.5 291.4V301.5M353.9 336.7V359.2M356.8 319.5V339.9M359.7 313V326.1M368.3 283V345.3M371.2 289.6V307.1M379.9 294.7V314.7M394.3 336.8V353.4M400 370.1V385.7M402.9 348.7V376M425.9 389.1V430.9M434.6 401.4V434.2M437.5 372.2V409.9M440.3 364.6V394.5M443.2 356.9V367.4M460.5 407.8V428.5M463.4 366.3V421.1M466.3 348V385.6M469.1 353.7V367.2M477.8 365.5V380.4M480.7 365.6V378.1M489.3 381.5V402.3M497.9 422.4V426.1M500.8 410.2V427.5M503.7 412.9V427.7M506.6 406.8V426M521 449.8V472.5M529.6 483.1V495.3M532.5 462.6V492.9M535.4 446.8V483.8M538.3 433.7V452.7M541.1 415.4V444.5M544 412.5V428.8M546.9 404.9V419.4M549.8 382.4V408.7M555.5 366.5V400.4M558.4 333V370.2M578.6 509.1V516.7M584.3 499.8V522.3M590.1 493.9V545.1M595.9 473.7V505.6M601.6 470.5V493.5M604.5 460.2V483.7M613.1 443.9V483.6M616 373V450.2M618.9 367.7V380M639.1 440.2V464.6M641.9 425.7V456.8M653.5 484.6V500M662.1 517.3V549.1M665 509.7V524.5M667.9 507.4V516.6M682.3 544.9V549.4M693.8 571.7V581.9M696.7 568.3V579M699.5 545.3V571.8M702.4 527.7V549.3M708.2 551.3V559.5M711.1 536.4V558.4M713.9 518.1V542.3M719.7 512.6V527.4M725.5 509.8V541M731.2 559.4V578.7M734.1 546.4V562.9M737 545.8V555.2M748.5 560.5V572.4M765.8 562.5V595.4M777.3 564.4V637.5M780.2 545.7V576.2M788.8 565V590.1M791.7 538.6V573.7M800.3 544.2V564.8M811.9 589.7V616.5M814.7 567.1V613.3M817.6 549.1V574.7M829.1 544V588.9M832 537.4V554.3M834.9 508.2V547.5M837.8 505.5V530.7M840.7 496.2V511.7M846.4 474.4V519.2M849.3 453.8V484.3M852.2 450.6V468.9M869.5 507.3V522.1M872.3 493.7V512.9M875.2 442V500.9M878.1 436.5V450.7M881 430.1V443.1M883.9 399.6V459.9M892.5 409.2V420.9M895.4 408.1V420.9M898.3 396.3V413.6M901.1 393.4V410.2M909.8 396.5V419.6M921.3 414.7V448.1M932.8 421.1V447.7M935.7 387.5V447.8M944.3 392V427.4M947.2 390V412.5M950.1 388.9V395.3M953 387V394.6M958.7 377.3V404.5M961.6 373.3V382.8M976 414.2V429.9M978.9 414.9V426M987.5 416.7V424.8M990.4 412.9V433.7M1004.8 462.8V478.5M1010.6 475.8V482.7M1013.5 462.7V477.6M1019.2 482.2V499.8M1022.1 472.2V491.8M1036.5 520.9V533.3M1039.4 510V524.9M1048 515.6V536.8M1056.7 507V526.6M1062.4 506.7V520.6M1065.3 491.6V514.7M1068.2 469.5V494.4M1073.9 480.1V492.1M1076.8 477.1V488.6M1085.5 475.2V492.7M1091.2 476.5V489.7M1097 476.6V491.4M1099.9 458.6V495.2M1102.7 448V463.2M1105.6 439.5V452.9M1114.3 440.6V450.6M1122.9 454.6V466.8M1128.7 446.6V470.1M1137.3 455.8V477M1148.8 487.9V500.8M1154.6 476V511.4M1157.5 460.4V499.7M1160.3 437.4V472M1163.2 432.7V442.5M1166.1 419.3V448.6M1169 400.5V428.5M1180.5 448.3V456.7M1194.9 478.3V507.7M1197.8 477.2V494.9M1200.7 449V488.5M1203.5 450.7V471.1M1206.4 436.2V459.3M1209.3 436.2V443.5M1212.2 382.9V440.2M1217.9 412.4V448.3M1220.8 360.1V422.6M1223.7 372V385.2M1226.6 370.9V385.3M1229.5 365.4V380.6M1235.2 371.6V385M1241 376.9V386.3M1243.9 338.3V383.7M1246.7 336.2V354.5M1249.6 334.5V345.6M1258.3 339.1V358.7M1266.9 363.3V371.3M1269.8 357.9V366.4M1272.7 351.6V364.7M1275.5 352V367M1278.4 351.3V360.6M1284.2 325.5V366.5M1289.9 337.9V355.9M1298.6 345.6V374.2M1301.5 337.5V350M1304.3 318.2V343.9M1313 344.9V363.8M1315.9 315.3V350.9M1327.4 339.2V348.4M1333.1 335V359.5M1336 328.2V359.4M1338.9 319.9V339.7M1341.8 315V327.2M1347.5 308.9V330.5M1350.4 297.4V325.1M1353.3 287.3V301.5M1356.2 287.2V302.8M1361.9 276.8V296.8M1364.8 264.6V283.2M1367.7 264V272.6M1370.6 251.6V258M1379.2 286.5V290.2M1396.5 363.1V375.9M1399.4 360.5V367.8M1410.9 370.3V398M1419.5 385.2V410M1422.4 368.1V404.5M1428.2 376.2V388.9M1431.1 340.2V379.6M1436.8 335.4V380.3M1439.7 329.1V355.8M1442.6 296.1V335.5M1445.5 294.5V305.8M1454.1 300V326.7M1462.7 320.9V330.5M1465.6 299.2V335.4M1471.4 316.2V329.7M1480 342V360.3M1488.7 365.1V385.9M1491.5 360.7V375.5M1494.4 326.7V369.3M1500.2 293.6V341M1503.1 296.4V318M1505.9 280.9V301.5M1508.8 265V290" stroke="#93d097" stroke-width="1" fill="none"/>
<path d="M65.9 567V599.4M74.6 563.1V576.4M83.2 519.6V545.6M86.1 526.9V554M89 549.2V558.9M94.7 534.2V573M97.6 569.8V594.8M106.3 526.8V555.5M126.4 389.1V457.2M132.2 437.4V459.8M135.1 451.7V468.1M146.6 389.7V398.9M158.1 315.4V326.8M161 303.8V333M163.9 324.2V336.6M181.1 244.5V268M184 232V313.7M186.9 307.3V313.8M189.8 310.9V317.1M192.7 311.4V372M198.4 326.3V340.1M201.3 324.4V338.5M215.7 271.9V291.5M218.6 275.1V299.3M221.5 293.8V310.7M230.1 255.7V271.1M244.5 203.6V229.6M253.1 186.6V217.9M267.5 96.7V134.4M270.4 130V152M273.3 146.1V153.2M276.2 141.3V182.3M281.9 124V180.1M284.8 175.8V233.3M287.7 225.4V254.2M296.3 232.6V258.3M299.2 249.6V270.4M305 243.8V255.7M307.9 248.9V266.7M319.4 230.2V262.4M322.3 258V295.3M325.1 288.6V307.2M328 297.8V327.1M330.9 290.6V322.4M336.7 289.5V300.2M342.4 291V300.2M345.3 295.9V313.5M348.2 308.9V352.9M351.1 334.4V359.1M362.6 313.6V325.7M365.5 309.5V338.3M374.1 288.8V303.4M377 292.7V320.4M382.7 287.7V316.3M385.6 312.2V347.9M388.5 329V353M391.4 341.2V352.6M397.1 331.8V377M405.8 350.7V359.2M408.7 344V386M411.5 376.8V405.2M414.4 391.9V407.1M417.3 381.3V408.3M420.2 395.7V424.7M423.1 409.9V426M428.8 385.5V404.9M431.7 385.3V429.1M446.1 356.6V374.5M449 366.8V382.5M451.9 376.6V397.1M454.7 380.3V412.5M457.6 391.3V427.6M472 354.7V385.7M474.9 364.4V381.7M483.5 357.2V380.1M486.4 373.8V400.7M492.2 388.2V395.4M495.1 386.6V426.3M509.5 410.3V444.9M512.3 420.6V443.5M515.2 434.1V465.3M518.1 450.2V470.8M523.9 453.5V488.1M526.7 456.5V515M552.7 386.7V398.1M561.3 342.8V356.5M564.2 332.8V385.3M567.1 365V404.2M569.9 392.3V438.3M572.8 417.4V459.6M575.7 454.5V515.7M581.5 507.8V521.1M587.2 497.6V543.1M593 494.6V505.9M598.7 477.6V487.6M607.4 455.4V473.9M610.3 463.9V481.6M621.8 367.9V396.6M624.7 386.7V407M627.5 394.1V430.2M630.4 415.5V440M633.3 429.8V448.1M636.2 439.7V468.6M644.8 419V465.4M647.7 456.6V485.2M650.6 477V502.8M656.3 474.3V525.8M659.2 519.5V551.7M670.7 507.5V530.8M673.6 520.8V531.8M676.5 516.7V546.2M679.4 533.3V549.5M685.1 531.4V564.3M688 558.7V600M690.9 561.5V585.3M705.3 525.7V559.5M716.8 522.2V527.3M722.6 514.2V527.7M728.3 511.6V570.7M739.9 533.8V562.7M742.7 550.4V566.6M745.6 552.4V575.1M751.4 559V572.6M754.3 564.7V588.4M757.1 573.8V581.2M760 562.9V586M762.9 573V597.1M768.7 559.9V590M771.5 579.7V586.9M774.4 577.4V635M783.1 541.3V562.2M785.9 556.5V603.5M794.6 544.6V575.2M797.5 556.7V569.6M803.2 548.1V557.8M806.1 553.8V588.6M809 578.9V624M820.5 561.5V574.7M823.4 560V587.6M826.3 578.5V591M843.5 494.5V509.3M855.1 451.2V461.7M857.9 455.2V482.7M860.8 458.1V488.5M863.7 483.1V500.2M866.6 491.7V521.1M886.7 397.1V406.2M889.6 387.4V415.9M904 393.5V429.4M906.9 404.1V415.4M912.7 395.3V406.6M915.5 391.4V423.4M918.4 418.4V461.1M924.2 414V436.1M927.1 416V446.6M929.9 434.2V447.2M938.6 390.5V425.3M941.5 410V432.1M955.9 386.4V391.1M964.5 371.9V387M967.4 375.2V403.5M970.3 391.3V419.7M973.1 408.5V429.5M981.8 411V422.2M984.7 406.4V424.9M993.3 398.3V432.6M996.2 420.8V480.1M999.1 452.6V484.7M1001.9 472.5V480.2M1007.7 466.4V482.4M1016.3 464.1V493.4M1025 461.7V480.5M1027.9 462.4V514.9M1030.7 505.2V525.3M1033.6 520.8V526.1M1042.3 512.2V523.8M1045.1 515.4V545.3M1050.9 518.1V527.3M1053.8 512.8V531.8M1059.5 504V519.8M1071.1 471.2V491.1M1079.7 478.4V491.5M1082.6 481.2V491.5M1088.3 469.1V485.9M1094.1 476.1V488.8M1108.5 428.8V446.3M1111.4 442.3V452.3M1117.1 440.3V454.4M1120 447V472.9M1125.8 453V471.4M1131.5 453.3V474.9M1134.4 461.3V474.1M1140.2 463.5V474.4M1143.1 464.6V478.3M1145.9 465.9V500.7M1151.7 490.5V507.2M1171.9 399.2V411.3M1174.7 403.4V451M1177.6 445.1V456.4M1183.4 451.6V471.3M1186.3 451.1V473M1189.1 466.2V516.7M1192 488.6V516.7M1215.1 398V441.2M1232.3 363.2V384.6M1238.1 368.2V388M1252.5 332.7V349.6M1255.4 340V359.3M1261.1 341.5V366.8M1264 359.2V373.6M1281.3 344.9V365.2M1287.1 326.1V354.6M1292.8 332.7V368.8M1295.7 345.4V373.9M1307.2 319.5V345.4M1310.1 335.1V361.5M1318.7 318.4V334.4M1321.6 324.1V351.6M1324.5 332.5V354.7M1330.3 342.5V363.7M1344.7 316V327.6M1359.1 286.5V296.4M1373.5 244.8V287.1M1376.3 275.1V292M1382.1 286.6V297.3M1385 279.6V315.8M1387.9 306.8V337.9M1390.7 309.3V348.1M1393.6 343.9V374.2M1402.3 357.7V372.4M1405.1 355.2V388.9M1408 382.7V395.6M1413.8 376.6V478M1416.7 387.6V418.8M1425.3 370.3V389.4M1433.9 342.8V371.1M1448.3 296.1V306.7M1451.2 303.6V324.3M1457 298.3V305M1459.9 300.2V328M1468.5 301.2V335.9M1474.3 312.8V356.7M1477.1 322.9V355.8M1482.9 341.4V366.9M1485.8 364.1V381.4M1497.3 321.9V340.3" stroke="#f2a0a0" stroke-width="1" fill="none"/>
<path d="M55.3 603.7h2.4V611.1h-2.4zM58.2 596.4h2.4V603.1h-2.4zM61.1 580.2h2.4V595.8h-2.4zM66.8 574.5h2.4V593.2h-2.4zM69.7 568.5h2.4V573.9h-2.4zM75.5 558.7h2.4V573h-2.4zM78.3 521h2.4V558.1h-2.4zM89.9 547.7h2.4V554.7h-2.4zM98.5 575.7h2.4V590.4h-2.4zM101.4 545.3h2.4V575.1h-2.4zM107.1 546.8h2.4V547.8h-2.4zM110 499.3h2.4V546.7h-2.4zM112.9 462h2.4V498.7h-2.4zM115.8 450.2h2.4V461.4h-2.4zM118.7 428.3h2.4V449.6h-2.4zM121.5 407.5h2.4V427.7h-2.4zM127.3 444.5h2.4V447.8h-2.4zM135.9 415.3h2.4V466.1h-2.4zM138.8 394.6h2.4V414.7h-2.4zM141.7 393.8h2.4V394.8h-2.4zM147.5 356.4h2.4V396.6h-2.4zM150.3 319.4h2.4V355.8h-2.4zM153.2 318h2.4V319h-2.4zM164.7 303h2.4V329.7h-2.4zM167.6 298.3h2.4V302.4h-2.4zM170.5 256.8h2.4V297.7h-2.4zM173.4 255.6h2.4V256.6h-2.4zM176.3 249h2.4V255.3h-2.4zM193.5 330.5h2.4V338.7h-2.4zM202.2 333.5h2.4V336.6h-2.4zM205.1 310.3h2.4V332.9h-2.4zM207.9 288.4h2.4V309.7h-2.4zM210.8 275.6h2.4V287.8h-2.4zM222.3 281.6h2.4V307.3h-2.4zM225.2 258.3h2.4V281h-2.4zM231 243.1h2.4V260.3h-2.4zM233.9 228.4h2.4V242.5h-2.4zM236.7 219.7h2.4V227.8h-2.4zM239.6 208.7h2.4V219.1h-2.4zM245.4 205.7h2.4V216.5h-2.4zM248.3 192.6h2.4V205.1h-2.4zM254 213.1h2.4V214.1h-2.4zM256.9 184h2.4V213.1h-2.4zM259.8 161.1h2.4V183.4h-2.4zM262.7 116.4h2.4V160.5h-2.4zM277.1 140.8h2.4V174.8h-2.4zM288.6 242.9h2.4V252.1h-2.4zM291.5 234.3h2.4V242.3h-2.4zM300.1 245.6h2.4V265.9h-2.4zM308.7 261.1h2.4V265.4h-2.4zM311.6 250.4h2.4V260.5h-2.4zM314.5 232.1h2.4V249.8h-2.4zM331.8 294.8h2.4V320.9h-2.4zM337.5 293.2h2.4V298.7h-2.4zM351.9 338.6h2.4V352.8h-2.4zM354.8 324.2h2.4V338h-2.4zM357.7 317.3h2.4V323.6h-2.4zM366.3 303.8h2.4V335.7h-2.4zM369.2 292.7h2.4V303.2h-2.4zM377.9 296.8h2.4V313h-2.4zM392.3 339.7h2.4V346.4h-2.4zM398 373.8h2.4V374.8h-2.4zM400.9 352.5h2.4V373.3h-2.4zM423.9 391.6h2.4V423.3h-2.4zM432.6 409.3h2.4V424.6h-2.4zM435.5 389h2.4V408.7h-2.4zM438.3 365.9h2.4V388.4h-2.4zM441.2 364.3h2.4V365.3h-2.4zM458.5 410.9h2.4V423.5h-2.4zM461.4 372.7h2.4V410.3h-2.4zM464.3 364.3h2.4V372.1h-2.4zM467.1 356.7h2.4V363.7h-2.4zM475.8 370.2h2.4V379.1h-2.4zM478.7 367.2h2.4V369.6h-2.4zM487.3 391h2.4V396.6h-2.4zM495.9 423.8h2.4V424.8h-2.4zM498.8 422.4h2.4V423.4h-2.4zM501.7 416.8h2.4V421.8h-2.4zM504.6 413.1h2.4V416.2h-2.4zM519 461.7h2.4V469h-2.4zM527.6 489.1h2.4V490.1h-2.4zM530.5 475.6h2.4V489.3h-2.4zM533.4 450.7h2.4V475h-2.4zM536.3 438.7h2.4V450.1h-2.4zM539.1 423.7h2.4V438.1h-2.4zM542 414.8h2.4V423.1h-2.4zM544.9 406.9h2.4V414.2h-2.4zM547.8 389.4h2.4V406.3h-2.4zM553.5 367.6h2.4V393.9h-2.4zM556.4 348.9h2.4V367h-2.4zM576.6 509.6h2.4V510.6h-2.4zM582.3 504.3h2.4V517.4h-2.4zM588.1 497.9h2.4V534.7h-2.4zM593.9 481.6h2.4V502.5h-2.4zM599.6 475.1h2.4V484.3h-2.4zM602.5 463.4h2.4V474.5h-2.4zM611.1 446h2.4V476h-2.4zM614 374.1h2.4V445.4h-2.4zM616.9 371.6h2.4V373.5h-2.4zM637.1 450.8h2.4V462.7h-2.4zM639.9 431.3h2.4V450.2h-2.4zM651.5 486.3h2.4V497h-2.4zM660.1 518.8h2.4V545.8h-2.4zM663 513.6h2.4V518.2h-2.4zM665.9 510.6h2.4V513h-2.4zM680.3 545.9h2.4V546.9h-2.4zM691.8 578h2.4V579.8h-2.4zM694.7 570.6h2.4V577.4h-2.4zM697.5 548.8h2.4V570h-2.4zM700.4 528.9h2.4V548.2h-2.4zM706.2 556.6h2.4V557.7h-2.4zM709.1 540.2h2.4V556h-2.4zM711.9 525.9h2.4V539.6h-2.4zM717.7 518.6h2.4V525.9h-2.4zM723.5 512.7h2.4V521.7h-2.4zM729.2 561.7h2.4V563.9h-2.4zM732.1 550.9h2.4V561.1h-2.4zM735 547.8h2.4V550.3h-2.4zM746.5 562.9h2.4V566.2h-2.4zM763.8 564h2.4V588.7h-2.4zM775.3 569.9h2.4V633.8h-2.4zM778.2 548.7h2.4V569.3h-2.4zM786.8 568.9h2.4V586.8h-2.4zM789.7 548.1h2.4V568.3h-2.4zM798.3 549.3h2.4V563.2h-2.4zM809.9 602.4h2.4V610.8h-2.4zM812.7 574.1h2.4V601.8h-2.4zM815.6 563.3h2.4V573.5h-2.4zM827.1 547.7h2.4V583.5h-2.4zM830 543.5h2.4V547.1h-2.4zM832.9 528.3h2.4V542.9h-2.4zM835.8 508.1h2.4V527.7h-2.4zM838.7 501h2.4V507.5h-2.4zM844.4 478.4h2.4V504.8h-2.4zM847.3 460h2.4V477.8h-2.4zM850.2 454.6h2.4V459.4h-2.4zM867.5 511.8h2.4V519.1h-2.4zM870.3 495.3h2.4V511.2h-2.4zM873.2 449.1h2.4V494.7h-2.4zM876.1 438.3h2.4V448.5h-2.4zM879 434h2.4V437.7h-2.4zM881.9 402.5h2.4V433.4h-2.4zM890.5 410.5h2.4V413.8h-2.4zM893.4 409.3h2.4V410.3h-2.4zM896.3 408.2h2.4V409.2h-2.4zM899.1 395.4h2.4V407.8h-2.4zM907.8 399h2.4V412.5h-2.4zM919.3 421.5h2.4V439.9h-2.4zM930.8 437.1h2.4V442.3h-2.4zM933.7 394h2.4V436.5h-2.4zM942.3 399.1h2.4V422.3h-2.4zM945.2 392.3h2.4V398.5h-2.4zM948.1 391.3h2.4V392.3h-2.4zM951 388.9h2.4V391.2h-2.4zM956.7 380.8h2.4V388.6h-2.4zM959.6 375.7h2.4V380.2h-2.4zM974 416.2h2.4V420.1h-2.4zM976.9 415.3h2.4V416.3h-2.4zM985.5 419.6h2.4V423.2h-2.4zM988.4 417.1h2.4V419h-2.4zM1002.8 467.8h2.4V477h-2.4zM1008.6 477.1h2.4V478.9h-2.4zM1011.5 466.8h2.4V476.5h-2.4zM1017.2 483.5h2.4V486.8h-2.4zM1020.1 474.8h2.4V482.9h-2.4zM1034.5 523.9h2.4V524.9h-2.4zM1037.4 516h2.4V523.7h-2.4zM1046 523.4h2.4V535.5h-2.4zM1054.7 509.9h2.4V525.5h-2.4zM1060.4 508.1h2.4V517h-2.4zM1063.3 493h2.4V507.5h-2.4zM1066.2 473.1h2.4V492.4h-2.4zM1071.9 484.5h2.4V488.5h-2.4zM1074.8 480.6h2.4V483.9h-2.4zM1083.5 481.4h2.4V489.9h-2.4zM1089.2 481h2.4V483.9h-2.4zM1095 482.6h2.4V486.5h-2.4zM1097.9 460.5h2.4V482h-2.4zM1100.7 449.5h2.4V459.9h-2.4zM1103.6 443.2h2.4V448.9h-2.4zM1112.3 443.5h2.4V447h-2.4zM1120.9 461.7h2.4V465.2h-2.4zM1126.7 454.7h2.4V468.7h-2.4zM1135.3 466.1h2.4V471h-2.4zM1146.8 492.6h2.4V498h-2.4zM1152.6 488.9h2.4V501.3h-2.4zM1155.5 466h2.4V488.3h-2.4zM1158.3 438.7h2.4V465.4h-2.4zM1161.2 433.9h2.4V438.1h-2.4zM1164.1 423.2h2.4V433.3h-2.4zM1167 403.8h2.4V422.6h-2.4zM1178.5 452.7h2.4V453.7h-2.4zM1192.9 491.1h2.4V498.6h-2.4zM1195.8 482.2h2.4V490.5h-2.4zM1198.7 455.2h2.4V481.6h-2.4zM1201.5 451.8h2.4V454.6h-2.4zM1204.4 440.4h2.4V451.2h-2.4zM1207.3 439h2.4V440h-2.4zM1210.2 400.6h2.4V438.6h-2.4zM1215.9 417.7h2.4V439.2h-2.4zM1218.8 379.9h2.4V417.1h-2.4zM1221.7 374.5h2.4V379.3h-2.4zM1224.6 373.1h2.4V374.1h-2.4zM1227.5 369.4h2.4V372.7h-2.4zM1233.2 374h2.4V378.3h-2.4zM1239 381.7h2.4V383.2h-2.4zM1241.9 352.6h2.4V381.1h-2.4zM1244.7 343h2.4V352h-2.4zM1247.6 336.6h2.4V342.4h-2.4zM1256.3 346.2h2.4V354.2h-2.4zM1264.9 365.2h2.4V369.5h-2.4zM1267.8 363.8h2.4V364.8h-2.4zM1270.7 362.5h2.4V363.5h-2.4zM1273.5 359.4h2.4V362h-2.4zM1276.4 356.2h2.4V358.8h-2.4zM1282.2 340.5h2.4V362.4h-2.4zM1287.9 339h2.4V349.6h-2.4zM1296.6 349.4h2.4V370.3h-2.4zM1299.5 342.4h2.4V348.8h-2.4zM1302.3 328.2h2.4V341.8h-2.4zM1311 350.3h2.4V358.9h-2.4zM1313.9 324.4h2.4V349.7h-2.4zM1325.4 345.6h2.4V347.3h-2.4zM1331.1 344.8h2.4V349h-2.4zM1334 334.2h2.4V344.2h-2.4zM1336.9 326.6h2.4V333.6h-2.4zM1339.8 318.5h2.4V326h-2.4zM1345.5 323.4h2.4V326.1h-2.4zM1348.4 299.4h2.4V322.8h-2.4zM1351.3 292.2h2.4V298.8h-2.4zM1354.2 290.9h2.4V291.9h-2.4zM1359.9 279.6h2.4V293.4h-2.4zM1362.8 271h2.4V279h-2.4zM1365.7 269.9h2.4V270.9h-2.4zM1368.6 254.7h2.4V269.9h-2.4zM1377.2 288.9h2.4V289.9h-2.4zM1394.5 367.1h2.4V372.3h-2.4zM1397.4 362.9h2.4V366.5h-2.4zM1408.9 377.9h2.4V391.5h-2.4zM1417.5 402.9h2.4V406.3h-2.4zM1420.4 376.1h2.4V402.3h-2.4zM1426.2 377.7h2.4V383.5h-2.4zM1429.1 348.7h2.4V377.1h-2.4zM1434.8 338.3h2.4V369.3h-2.4zM1437.7 332h2.4V337.7h-2.4zM1440.6 298.8h2.4V331.4h-2.4zM1443.5 297.6h2.4V298.6h-2.4zM1452.1 301.7h2.4V321.4h-2.4zM1460.7 322.6h2.4V324.7h-2.4zM1463.6 303.4h2.4V322h-2.4zM1469.4 318.3h2.4V324.8h-2.4zM1478 344.9h2.4V352.5h-2.4zM1486.7 373.1h2.4V378h-2.4zM1489.5 368.2h2.4V372.5h-2.4zM1492.4 329.9h2.4V367.6h-2.4zM1498.2 309.5h2.4V333.9h-2.4zM1501.1 299.2h2.4V308.9h-2.4zM1503.9 288.8h2.4V298.6h-2.4zM1506.8 269.6h2.4V288.2h-2.4z" fill="#a5d8a8"/>
<path d="M63.9 580.2h2.4V593.2h-2.4zM72.6 568.5h2.4V573h-2.4zM81.2 521h2.4V530.8h-2.4zM84.1 531.4h2.4V551.7h-2.4zM87 552.3h2.4V554.7h-2.4zM92.7 547.7h2.4V571.7h-2.4zM95.6 572.3h2.4V590.4h-2.4zM104.3 545.3h2.4V547.4h-2.4zM124.4 407.5h2.4V447.8h-2.4zM130.2 444.5h2.4V454.6h-2.4zM133.1 455.2h2.4V466.1h-2.4zM144.6 394.6h2.4V396.6h-2.4zM156.1 318h2.4V319h-2.4zM159 319.4h2.4V326.2h-2.4zM161.9 326.8h2.4V329.7h-2.4zM179.1 249h2.4V266.6h-2.4zM182 267.2h2.4V309.5h-2.4zM184.9 310.1h2.4V312.6h-2.4zM187.8 313.2h2.4V314.7h-2.4zM190.7 315.3h2.4V338.7h-2.4zM196.4 330.5h2.4V335.8h-2.4zM199.3 336h2.4V337h-2.4zM213.7 275.6h2.4V283.7h-2.4zM216.6 284.3h2.4V296.8h-2.4zM219.5 297.4h2.4V307.3h-2.4zM228.1 258.3h2.4V260.3h-2.4zM242.5 208.7h2.4V216.5h-2.4zM251.1 192.6h2.4V213.4h-2.4zM265.5 116.4h2.4V131.6h-2.4zM268.4 132.2h2.4V147.7h-2.4zM271.3 148h2.4V149h-2.4zM274.2 149.2h2.4V174.8h-2.4zM279.9 140.8h2.4V179h-2.4zM282.8 179.6h2.4V230h-2.4zM285.7 230.6h2.4V252.1h-2.4zM294.3 234.3h2.4V251.2h-2.4zM297.2 251.8h2.4V265.9h-2.4zM303 245.6h2.4V253.7h-2.4zM305.9 254.3h2.4V265.4h-2.4zM317.4 232.1h2.4V260h-2.4zM320.3 260.6h2.4V291.1h-2.4zM323.1 291.7h2.4V303.8h-2.4zM326 304.4h2.4V315.8h-2.4zM328.9 316.4h2.4V320.9h-2.4zM334.7 294.8h2.4V298.7h-2.4zM340.4 293.2h2.4V296.5h-2.4zM343.3 297.1h2.4V310.4h-2.4zM346.2 311h2.4V348.8h-2.4zM349.1 349.4h2.4V352.8h-2.4zM360.6 317.3h2.4V320.2h-2.4zM363.5 320.8h2.4V335.7h-2.4zM372.1 292.7h2.4V296.2h-2.4zM375 296.8h2.4V313h-2.4zM380.7 296.8h2.4V313h-2.4zM383.6 313.6h2.4V332.2h-2.4zM386.5 332.8h2.4V345.4h-2.4zM389.4 345.7h2.4V346.7h-2.4zM395.1 339.7h2.4V374.7h-2.4zM403.8 352.2h2.4V353.2h-2.4zM406.7 353.4h2.4V381.5h-2.4zM409.5 382.1h2.4V397.8h-2.4zM412.4 398.4h2.4V400.3h-2.4zM415.3 400.9h2.4V403.2h-2.4zM418.2 403.8h2.4V417.6h-2.4zM421.1 418.2h2.4V423.3h-2.4zM426.8 391.6h2.4V400h-2.4zM429.7 400.6h2.4V424.6h-2.4zM444.1 364.3h2.4V370h-2.4zM447 370.6h2.4V378.8h-2.4zM449.9 379.4h2.4V388.9h-2.4zM452.7 389.5h2.4V405.9h-2.4zM455.6 406.5h2.4V423.5h-2.4zM470 356.7h2.4V378.1h-2.4zM472.9 378.4h2.4V379.4h-2.4zM481.5 367.2h2.4V376.3h-2.4zM484.4 376.9h2.4V396.6h-2.4zM490.2 391h2.4V393.7h-2.4zM493.1 394.3h2.4V424.6h-2.4zM507.5 413.1h2.4V437h-2.4zM510.3 437.6h2.4V440.9h-2.4zM513.2 441.5h2.4V462h-2.4zM516.1 462.6h2.4V469h-2.4zM521.9 461.7h2.4V470.8h-2.4zM524.7 471.4h2.4V489.4h-2.4zM550.7 389.4h2.4V393.9h-2.4zM559.3 348.9h2.4V354.7h-2.4zM562.2 355.3h2.4V370.6h-2.4zM565.1 371.2h2.4V400.5h-2.4zM567.9 401.1h2.4V420.6h-2.4zM570.8 421.2h2.4V455.4h-2.4zM573.7 456h2.4V510.1h-2.4zM579.5 510.2h2.4V517.4h-2.4zM585.2 504.3h2.4V534.7h-2.4zM591 497.9h2.4V502.5h-2.4zM596.7 481.6h2.4V484.3h-2.4zM605.4 463.4h2.4V470.6h-2.4zM608.3 471.2h2.4V476h-2.4zM619.8 371.6h2.4V394.5h-2.4zM622.7 395.1h2.4V403.1h-2.4zM625.5 403.7h2.4V417.1h-2.4zM628.4 417.7h2.4V437.5h-2.4zM631.3 438.1h2.4V442.5h-2.4zM634.2 443.1h2.4V462.7h-2.4zM642.8 431.3h2.4V459.1h-2.4zM645.7 459.7h2.4V482.9h-2.4zM648.6 483.5h2.4V497h-2.4zM654.3 486.3h2.4V520.5h-2.4zM657.2 521.1h2.4V545.8h-2.4zM668.7 510.6h2.4V527.3h-2.4zM671.6 527.9h2.4V529h-2.4zM674.5 529.6h2.4V541.5h-2.4zM677.4 542.1h2.4V546.2h-2.4zM683.1 546.7h2.4V560.5h-2.4zM686 561.1h2.4V565.9h-2.4zM688.9 566.5h2.4V579.8h-2.4zM703.3 528.9h2.4V557.7h-2.4zM714.8 525.4h2.4V526.4h-2.4zM720.6 518.6h2.4V521.7h-2.4zM726.3 512.7h2.4V563.9h-2.4zM737.9 547.8h2.4V551.8h-2.4zM740.7 552.4h2.4V560.6h-2.4zM743.6 561.2h2.4V566.2h-2.4zM749.4 562.9h2.4V569.4h-2.4zM752.3 570h2.4V574.8h-2.4zM755.1 575.4h2.4V578.2h-2.4zM758 578.7h2.4V579.7h-2.4zM760.9 580.1h2.4V588.7h-2.4zM766.7 564h2.4V583.6h-2.4zM769.5 583.5h2.4V584.5h-2.4zM772.4 584.3h2.4V633.8h-2.4zM781.1 548.7h2.4V560.9h-2.4zM783.9 561.5h2.4V586.8h-2.4zM792.6 548.1h2.4V562.1h-2.4zM795.5 562.5h2.4V563.5h-2.4zM801.2 549.3h2.4V554.8h-2.4zM804.1 555.4h2.4V580.2h-2.4zM807 580.8h2.4V610.8h-2.4zM818.5 563.3h2.4V570.1h-2.4zM821.4 570.7h2.4V583.1h-2.4zM824.3 583.1h2.4V584.1h-2.4zM841.5 501h2.4V504.8h-2.4zM853.1 454.6h2.4V457.3h-2.4zM855.9 457.9h2.4V468h-2.4zM858.8 468.6h2.4V486.5h-2.4zM861.7 487.1h2.4V498.5h-2.4zM864.6 499.1h2.4V519.1h-2.4zM884.7 402.5h2.4V404.4h-2.4zM887.6 405h2.4V413.8h-2.4zM902 395.4h2.4V407.5h-2.4zM904.9 408.1h2.4V412.5h-2.4zM910.7 399h2.4V401.6h-2.4zM913.5 402.2h2.4V419.1h-2.4zM916.4 419.7h2.4V439.9h-2.4zM922.2 421.5h2.4V434.6h-2.4zM925.1 435.2h2.4V439h-2.4zM927.9 439.6h2.4V442.3h-2.4zM936.6 394h2.4V417.7h-2.4zM939.5 418.3h2.4V422.3h-2.4zM953.9 388.3h2.4V389.3h-2.4zM962.5 375.7h2.4V385.7h-2.4zM965.4 386.3h2.4V391.9h-2.4zM968.3 392.5h2.4V411.7h-2.4zM971.1 412.3h2.4V420.1h-2.4zM979.8 416.1h2.4V419.2h-2.4zM982.7 419.8h2.4V423.2h-2.4zM991.3 417.1h2.4V425.3h-2.4zM994.2 425.9h2.4V460.8h-2.4zM997.1 461.4h2.4V474.4h-2.4zM999.9 475h2.4V477h-2.4zM1005.7 467.8h2.4V478.9h-2.4zM1014.3 466.8h2.4V486.8h-2.4zM1023 474.8h2.4V478.5h-2.4zM1025.9 479.1h2.4V506.7h-2.4zM1028.7 507.3h2.4V522h-2.4zM1031.6 522.6h2.4V524.5h-2.4zM1040.3 516h2.4V519h-2.4zM1043.1 519.6h2.4V535.5h-2.4zM1048.9 522.6h2.4V523.6h-2.4zM1051.8 523.4h2.4V525.5h-2.4zM1057.5 509.9h2.4V517h-2.4zM1069.1 473.1h2.4V488.5h-2.4zM1077.7 480.6h2.4V485.9h-2.4zM1080.6 486.5h2.4V489.9h-2.4zM1086.3 481.4h2.4V483.9h-2.4zM1092.1 481h2.4V486.5h-2.4zM1106.5 443.2h2.4V444.3h-2.4zM1109.4 444.9h2.4V447h-2.4zM1115.1 443.5h2.4V451h-2.4zM1118 451.6h2.4V465.2h-2.4zM1123.8 461.7h2.4V468.7h-2.4zM1129.5 454.7h2.4V462h-2.4zM1132.4 462.6h2.4V471h-2.4zM1138.2 466.1h2.4V468.8h-2.4zM1141.1 469.4h2.4V475.1h-2.4zM1143.9 475.7h2.4V498h-2.4zM1149.7 492.6h2.4V501.3h-2.4zM1169.9 403.8h2.4V405h-2.4zM1172.7 405.6h2.4V445.7h-2.4zM1175.6 446.3h2.4V453.4h-2.4zM1181.4 452.9h2.4V464.2h-2.4zM1184.3 464.8h2.4V469.8h-2.4zM1187.1 470.4h2.4V491.8h-2.4zM1190 492.4h2.4V498.6h-2.4zM1213.1 400.6h2.4V439.2h-2.4zM1230.3 369.4h2.4V378.3h-2.4zM1236.1 374h2.4V383.2h-2.4zM1250.5 336.6h2.4V348.4h-2.4zM1253.4 349h2.4V354.2h-2.4zM1259.1 346.2h2.4V363.3h-2.4zM1262 363.9h2.4V369.5h-2.4zM1279.3 356.2h2.4V362.4h-2.4zM1285.1 340.5h2.4V349.6h-2.4zM1290.8 339h2.4V361h-2.4zM1293.7 361.6h2.4V370.3h-2.4zM1305.2 328.2h2.4V344h-2.4zM1308.1 344.6h2.4V358.9h-2.4zM1316.7 324h2.4V325h-2.4zM1319.6 325.2h2.4V335.4h-2.4zM1322.5 336h2.4V347.3h-2.4zM1328.3 345.6h2.4V349h-2.4zM1342.7 318.5h2.4V326.1h-2.4zM1357.1 291.3h2.4V293.4h-2.4zM1371.5 254.7h2.4V284.5h-2.4zM1374.3 285.1h2.4V289.1h-2.4zM1380.1 289.7h2.4V294.2h-2.4zM1383 294.8h2.4V312.6h-2.4zM1385.9 313.2h2.4V329.3h-2.4zM1388.7 329.9h2.4V346.9h-2.4zM1391.6 347.5h2.4V372.3h-2.4zM1400.3 362.9h2.4V369.4h-2.4zM1403.1 370h2.4V386.2h-2.4zM1406 386.8h2.4V391.5h-2.4zM1411.8 377.9h2.4V393.5h-2.4zM1414.7 394.1h2.4V406.3h-2.4zM1423.3 376.1h2.4V383.5h-2.4zM1431.9 348.7h2.4V369.3h-2.4zM1446.3 298h2.4V304.8h-2.4zM1449.2 305.4h2.4V321.4h-2.4zM1455 301.4h2.4V302.4h-2.4zM1457.9 302.7h2.4V324.7h-2.4zM1466.5 303.4h2.4V324.8h-2.4zM1472.3 318.3h2.4V332.7h-2.4zM1475.1 333.3h2.4V352.5h-2.4zM1480.9 344.9h2.4V365.2h-2.4zM1483.8 365.8h2.4V378h-2.4zM1495.3 329.9h2.4V333.9h-2.4z" fill="#f4b0b0"/>
<path d="M56.1 603.4h2.9V611.4h-2.9zM59 596.1h2.9V603.4h-2.9zM61.9 579.9h2.9V596.1h-2.9zM67.7 574.2h2.9V593.5h-2.9zM70.5 568.2h2.9V574.2h-2.9zM76.3 558.4h2.9V573.3h-2.9zM79.2 520.7h2.9V558.4h-2.9zM90.7 547.4h2.9V555h-2.9zM99.3 575.4h2.9V590.7h-2.9zM102.2 545h2.9V575.4h-2.9zM108 546.5h2.9V548.1h-2.9zM110.9 499h2.9V547h-2.9zM113.7 461.7h2.9V499h-2.9zM116.6 449.9h2.9V461.7h-2.9zM119.5 428h2.9V449.9h-2.9zM122.4 407.2h2.9V428h-2.9zM128.1 444.2h2.9V448.1h-2.9zM136.8 415h2.9V466.4h-2.9zM139.7 394.3h2.9V415h-2.9zM142.5 393.5h2.9V395.1h-2.9zM148.3 356.1h2.9V396.9h-2.9zM151.2 319.1h2.9V356.1h-2.9zM154.1 317.7h2.9V319.3h-2.9zM165.6 302.7h2.9V330h-2.9zM168.5 298h2.9V302.7h-2.9zM171.3 256.5h2.9V298h-2.9zM174.2 255.3h2.9V256.9h-2.9zM177.1 248.7h2.9V255.6h-2.9zM194.4 330.2h2.9V339h-2.9zM203 333.2h2.9V336.9h-2.9zM205.9 310h2.9V333.2h-2.9zM208.8 288.1h2.9V310h-2.9zM211.7 275.3h2.9V288.1h-2.9zM223.2 281.3h2.9V307.6h-2.9zM226.1 258h2.9V281.3h-2.9zM231.8 242.8h2.9V260.6h-2.9zM234.7 228.1h2.9V242.8h-2.9zM237.6 219.4h2.9V228.1h-2.9zM240.5 208.4h2.9V219.4h-2.9zM246.2 205.4h2.9V216.8h-2.9zM249.1 192.3h2.9V205.4h-2.9zM254.9 212.8h2.9V214.4h-2.9zM257.7 183.7h2.9V213.4h-2.9zM260.6 160.8h2.9V183.7h-2.9zM263.5 116.1h2.9V160.8h-2.9zM277.9 140.5h2.9V175.1h-2.9zM289.4 242.6h2.9V252.4h-2.9zM292.3 234h2.9V242.6h-2.9zM300.9 245.3h2.9V266.2h-2.9zM309.6 260.8h2.9V265.7h-2.9zM312.5 250.1h2.9V260.8h-2.9zM315.3 231.8h2.9V250.1h-2.9zM332.6 294.5h2.9V321.2h-2.9zM338.4 292.9h2.9V299h-2.9zM352.8 338.3h2.9V353.1h-2.9zM355.7 323.9h2.9V338.3h-2.9zM358.5 317h2.9V323.9h-2.9zM367.2 303.5h2.9V336h-2.9zM370.1 292.4h2.9V303.5h-2.9zM378.7 296.5h2.9V313.3h-2.9zM393.1 339.4h2.9V346.7h-2.9zM398.9 373.5h2.9V375.1h-2.9zM401.7 352.2h2.9V373.6h-2.9zM424.8 391.3h2.9V423.6h-2.9zM433.4 409h2.9V424.9h-2.9zM436.3 388.7h2.9V409h-2.9zM439.2 365.6h2.9V388.7h-2.9zM442.1 364h2.9V365.6h-2.9zM459.3 410.6h2.9V423.8h-2.9zM462.2 372.4h2.9V410.6h-2.9zM465.1 364h2.9V372.4h-2.9zM468 356.4h2.9V364h-2.9zM476.6 369.9h2.9V379.4h-2.9zM479.5 366.9h2.9V369.9h-2.9zM488.1 390.7h2.9V396.9h-2.9zM496.8 423.5h2.9V425.1h-2.9zM499.7 422.1h2.9V423.7h-2.9zM502.5 416.5h2.9V422.1h-2.9zM505.4 412.8h2.9V416.5h-2.9zM519.8 461.4h2.9V469.3h-2.9zM528.5 488.8h2.9V490.4h-2.9zM531.3 475.3h2.9V489.6h-2.9zM534.2 450.4h2.9V475.3h-2.9zM537.1 438.4h2.9V450.4h-2.9zM540 423.4h2.9V438.4h-2.9zM542.9 414.5h2.9V423.4h-2.9zM545.7 406.6h2.9V414.5h-2.9zM548.6 389.1h2.9V406.6h-2.9zM554.4 367.3h2.9V394.2h-2.9zM557.3 348.6h2.9V367.3h-2.9zM577.4 509.3h2.9V510.9h-2.9zM583.2 504h2.9V517.7h-2.9zM588.9 497.6h2.9V535h-2.9zM594.7 481.3h2.9V502.8h-2.9zM600.5 474.8h2.9V484.6h-2.9zM603.3 463.1h2.9V474.8h-2.9zM612 445.7h2.9V476.3h-2.9zM614.9 373.8h2.9V445.7h-2.9zM617.7 371.3h2.9V373.8h-2.9zM637.9 450.5h2.9V463h-2.9zM640.8 431h2.9V450.5h-2.9zM652.3 486h2.9V497.3h-2.9zM660.9 518.5h2.9V546.1h-2.9zM663.8 513.3h2.9V518.5h-2.9zM666.7 510.3h2.9V513.3h-2.9zM681.1 545.6h2.9V547.2h-2.9zM692.6 577.7h2.9V580.1h-2.9zM695.5 570.3h2.9V577.7h-2.9zM698.4 548.5h2.9V570.3h-2.9zM701.3 528.6h2.9V548.5h-2.9zM707 556.3h2.9V558h-2.9zM709.9 539.9h2.9V556.3h-2.9zM712.8 525.6h2.9V539.9h-2.9zM718.5 518.3h2.9V526.2h-2.9zM724.3 512.4h2.9V522h-2.9zM730.1 561.4h2.9V564.2h-2.9zM732.9 550.6h2.9V561.4h-2.9zM735.8 547.5h2.9V550.6h-2.9zM747.3 562.6h2.9V566.5h-2.9zM764.6 563.7h2.9V589h-2.9zM776.1 569.6h2.9V634.1h-2.9zM779 548.4h2.9V569.6h-2.9zM787.7 568.6h2.9V587.1h-2.9zM790.5 547.8h2.9V568.6h-2.9zM799.2 549h2.9V563.5h-2.9zM810.7 602.1h2.9V611.1h-2.9zM813.6 573.8h2.9V602.1h-2.9zM816.5 563h2.9V573.8h-2.9zM828 547.4h2.9V583.8h-2.9zM830.9 543.2h2.9V547.4h-2.9zM833.7 528h2.9V543.2h-2.9zM836.6 507.8h2.9V528h-2.9zM839.5 500.7h2.9V507.8h-2.9zM845.3 478.1h2.9V505.1h-2.9zM848.1 459.7h2.9V478.1h-2.9zM851 454.3h2.9V459.7h-2.9zM868.3 511.5h2.9V519.4h-2.9zM871.2 495h2.9V511.5h-2.9zM874.1 448.8h2.9V495h-2.9zM876.9 438h2.9V448.8h-2.9zM879.8 433.7h2.9V438h-2.9zM882.7 402.2h2.9V433.7h-2.9zM891.3 410.2h2.9V414.1h-2.9zM894.2 409h2.9V410.6h-2.9zM897.1 407.9h2.9V409.5h-2.9zM900 395.1h2.9V408.1h-2.9zM908.6 398.7h2.9V412.8h-2.9zM920.1 421.2h2.9V440.2h-2.9zM931.7 436.8h2.9V442.6h-2.9zM934.5 393.7h2.9V436.8h-2.9zM943.2 398.8h2.9V422.6h-2.9zM946.1 392h2.9V398.8h-2.9zM948.9 391h2.9V392.6h-2.9zM951.8 388.6h2.9V391.5h-2.9zM957.6 380.5h2.9V388.9h-2.9zM960.5 375.4h2.9V380.5h-2.9zM974.9 415.9h2.9V420.4h-2.9zM977.7 415h2.9V416.6h-2.9zM986.4 419.3h2.9V423.5h-2.9zM989.3 416.8h2.9V419.3h-2.9zM1003.7 467.5h2.9V477.3h-2.9zM1009.4 476.8h2.9V479.2h-2.9zM1012.3 466.5h2.9V476.8h-2.9zM1018.1 483.2h2.9V487.1h-2.9zM1020.9 474.5h2.9V483.2h-2.9zM1035.3 523.6h2.9V525.2h-2.9zM1038.2 515.7h2.9V524h-2.9zM1046.9 523.1h2.9V535.8h-2.9zM1055.5 509.6h2.9V525.8h-2.9zM1061.3 507.8h2.9V517.3h-2.9zM1064.2 492.7h2.9V507.8h-2.9zM1067 472.8h2.9V492.7h-2.9zM1072.8 484.2h2.9V488.8h-2.9zM1075.7 480.3h2.9V484.2h-2.9zM1084.3 481.1h2.9V490.2h-2.9zM1090.1 480.7h2.9V484.2h-2.9zM1095.8 482.3h2.9V486.8h-2.9zM1098.7 460.2h2.9V482.3h-2.9zM1101.6 449.2h2.9V460.2h-2.9zM1104.5 442.9h2.9V449.2h-2.9zM1113.1 443.2h2.9V447.3h-2.9zM1121.8 461.4h2.9V465.5h-2.9zM1127.5 454.4h2.9V469h-2.9zM1136.2 465.8h2.9V471.3h-2.9zM1147.7 492.3h2.9V498.3h-2.9zM1153.4 488.6h2.9V501.6h-2.9zM1156.3 465.7h2.9V488.6h-2.9zM1159.2 438.4h2.9V465.7h-2.9zM1162.1 433.6h2.9V438.4h-2.9zM1165 422.9h2.9V433.6h-2.9zM1167.8 403.5h2.9V422.9h-2.9zM1179.4 452.4h2.9V454h-2.9zM1193.8 490.8h2.9V498.9h-2.9zM1196.6 481.9h2.9V490.8h-2.9zM1199.5 454.9h2.9V481.9h-2.9zM1202.4 451.5h2.9V454.9h-2.9zM1205.3 440.1h2.9V451.5h-2.9zM1208.2 438.7h2.9V440.3h-2.9zM1211 400.3h2.9V438.9h-2.9zM1216.8 417.4h2.9V439.5h-2.9zM1219.7 379.6h2.9V417.4h-2.9zM1222.6 374.2h2.9V379.6h-2.9zM1225.4 372.8h2.9V374.4h-2.9zM1228.3 369.1h2.9V373h-2.9zM1234.1 373.7h2.9V378.6h-2.9zM1239.8 381.4h2.9V383.5h-2.9zM1242.7 352.3h2.9V381.4h-2.9zM1245.6 342.7h2.9V352.3h-2.9zM1248.5 336.3h2.9V342.7h-2.9zM1257.1 345.9h2.9V354.5h-2.9zM1265.8 364.9h2.9V369.8h-2.9zM1268.6 363.5h2.9V365.1h-2.9zM1271.5 362.2h2.9V363.8h-2.9zM1274.4 359.1h2.9V362.3h-2.9zM1277.3 355.9h2.9V359.1h-2.9zM1283 340.2h2.9V362.7h-2.9zM1288.8 338.7h2.9V349.9h-2.9zM1297.4 349.1h2.9V370.6h-2.9zM1300.3 342.1h2.9V349.1h-2.9zM1303.2 327.9h2.9V342.1h-2.9zM1311.8 350h2.9V359.2h-2.9zM1314.7 324.1h2.9V350h-2.9zM1326.2 345.3h2.9V347.6h-2.9zM1332 344.5h2.9V349.3h-2.9zM1334.9 333.9h2.9V344.5h-2.9zM1337.8 326.3h2.9V333.9h-2.9zM1340.6 318.2h2.9V326.3h-2.9zM1346.4 323.1h2.9V326.4h-2.9zM1349.3 299.1h2.9V323.1h-2.9zM1352.2 291.9h2.9V299.1h-2.9zM1355 290.6h2.9V292.2h-2.9zM1360.8 279.3h2.9V293.7h-2.9zM1363.7 270.7h2.9V279.3h-2.9zM1366.6 269.6h2.9V271.2h-2.9zM1369.4 254.4h2.9V270.2h-2.9zM1378.1 288.6h2.9V290.2h-2.9zM1395.4 366.8h2.9V372.6h-2.9zM1398.2 362.6h2.9V366.8h-2.9zM1409.8 377.6h2.9V391.8h-2.9zM1418.4 402.6h2.9V406.6h-2.9zM1421.3 375.8h2.9V402.6h-2.9zM1427 377.4h2.9V383.8h-2.9zM1429.9 348.4h2.9V377.4h-2.9zM1435.7 338h2.9V369.6h-2.9zM1438.6 331.7h2.9V338h-2.9zM1441.4 298.5h2.9V331.7h-2.9zM1444.3 297.3h2.9V298.9h-2.9zM1453 301.4h2.9V321.7h-2.9zM1461.6 322.3h2.9V325h-2.9zM1464.5 303.1h2.9V322.3h-2.9zM1470.2 318h2.9V325.1h-2.9zM1478.9 344.6h2.9V352.8h-2.9zM1487.5 372.8h2.9V378.3h-2.9zM1490.4 367.9h2.9V372.8h-2.9zM1493.3 329.6h2.9V367.9h-2.9zM1499 309.2h2.9V334.2h-2.9zM1501.9 298.9h2.9V309.2h-2.9zM1504.8 288.5h2.9V298.9h-2.9zM1507.7 269.3h2.9V288.5h-2.9z" fill="#0c1a0c"/>
<path d="M64.8 579.9h2.9V593.5h-2.9zM73.4 568.2h2.9V573.3h-2.9zM82.1 520.7h2.9V531.1h-2.9zM84.9 531.1h2.9V552h-2.9zM87.8 552h2.9V555h-2.9zM93.6 547.4h2.9V572h-2.9zM96.5 572h2.9V590.7h-2.9zM105.1 545h2.9V547.7h-2.9zM125.3 407.2h2.9V448.1h-2.9zM131 444.2h2.9V454.9h-2.9zM133.9 454.9h2.9V466.4h-2.9zM145.4 394.3h2.9V396.9h-2.9zM156.9 317.7h2.9V319.3h-2.9zM159.8 319.1h2.9V326.5h-2.9zM162.7 326.5h2.9V330h-2.9zM180 248.7h2.9V266.9h-2.9zM182.9 266.9h2.9V309.8h-2.9zM185.7 309.8h2.9V312.9h-2.9zM188.6 312.9h2.9V315h-2.9zM191.5 315h2.9V339h-2.9zM197.3 330.2h2.9V336.1h-2.9zM200.1 335.7h2.9V337.3h-2.9zM214.5 275.3h2.9V284h-2.9zM217.4 284h2.9V297.1h-2.9zM220.3 297.1h2.9V307.6h-2.9zM228.9 258h2.9V260.6h-2.9zM243.3 208.4h2.9V216.8h-2.9zM252 192.3h2.9V213.7h-2.9zM266.4 116.1h2.9V131.9h-2.9zM269.3 131.9h2.9V148h-2.9zM272.1 147.7h2.9V149.3h-2.9zM275 148.9h2.9V175.1h-2.9zM280.8 140.5h2.9V179.3h-2.9zM283.7 179.3h2.9V230.3h-2.9zM286.5 230.3h2.9V252.4h-2.9zM295.2 234h2.9V251.5h-2.9zM298.1 251.5h2.9V266.2h-2.9zM303.8 245.3h2.9V254h-2.9zM306.7 254h2.9V265.7h-2.9zM318.2 231.8h2.9V260.3h-2.9zM321.1 260.3h2.9V291.4h-2.9zM324 291.4h2.9V304.1h-2.9zM326.9 304.1h2.9V316.1h-2.9zM329.7 316.1h2.9V321.2h-2.9zM335.5 294.5h2.9V299h-2.9zM341.3 292.9h2.9V296.8h-2.9zM344.1 296.8h2.9V310.7h-2.9zM347 310.7h2.9V349.1h-2.9zM349.9 349.1h2.9V353.1h-2.9zM361.4 317h2.9V320.5h-2.9zM364.3 320.5h2.9V336h-2.9zM372.9 292.4h2.9V296.5h-2.9zM375.8 296.5h2.9V313.3h-2.9zM381.6 296.5h2.9V313.3h-2.9zM384.5 313.3h2.9V332.5h-2.9zM387.3 332.5h2.9V345.7h-2.9zM390.2 345.4h2.9V347h-2.9zM396 339.4h2.9V375h-2.9zM404.6 351.9h2.9V353.5h-2.9zM407.5 353.1h2.9V381.8h-2.9zM410.4 381.8h2.9V398.1h-2.9zM413.3 398.1h2.9V400.6h-2.9zM416.1 400.6h2.9V403.5h-2.9zM419 403.5h2.9V417.9h-2.9zM421.9 417.9h2.9V423.6h-2.9zM427.7 391.3h2.9V400.3h-2.9zM430.5 400.3h2.9V424.9h-2.9zM444.9 364h2.9V370.3h-2.9zM447.8 370.3h2.9V379.1h-2.9zM450.7 379.1h2.9V389.2h-2.9zM453.6 389.2h2.9V406.2h-2.9zM456.5 406.2h2.9V423.8h-2.9zM470.9 356.4h2.9V378.4h-2.9zM473.7 378.1h2.9V379.7h-2.9zM482.4 366.9h2.9V376.6h-2.9zM485.3 376.6h2.9V396.9h-2.9zM491 390.7h2.9V394h-2.9zM493.9 394h2.9V424.9h-2.9zM508.3 412.8h2.9V437.3h-2.9zM511.2 437.3h2.9V441.2h-2.9zM514.1 441.2h2.9V462.3h-2.9zM516.9 462.3h2.9V469.3h-2.9zM522.7 461.4h2.9V471.1h-2.9zM525.6 471.1h2.9V489.7h-2.9zM551.5 389.1h2.9V394.2h-2.9zM560.1 348.6h2.9V355h-2.9zM563 355h2.9V370.9h-2.9zM565.9 370.9h2.9V400.8h-2.9zM568.8 400.8h2.9V420.9h-2.9zM571.7 420.9h2.9V455.7h-2.9zM574.5 455.7h2.9V510.4h-2.9zM580.3 509.9h2.9V517.7h-2.9zM586.1 504h2.9V535h-2.9zM591.8 497.6h2.9V502.8h-2.9zM597.6 481.3h2.9V484.6h-2.9zM606.2 463.1h2.9V470.9h-2.9zM609.1 470.9h2.9V476.3h-2.9zM620.6 371.3h2.9V394.8h-2.9zM623.5 394.8h2.9V403.4h-2.9zM626.4 403.4h2.9V417.4h-2.9zM629.3 417.4h2.9V437.8h-2.9zM632.1 437.8h2.9V442.8h-2.9zM635 442.8h2.9V463h-2.9zM643.7 431h2.9V459.4h-2.9zM646.5 459.4h2.9V483.2h-2.9zM649.4 483.2h2.9V497.3h-2.9zM655.2 486h2.9V520.8h-2.9zM658.1 520.8h2.9V546.1h-2.9zM669.6 510.3h2.9V527.6h-2.9zM672.5 527.6h2.9V529.3h-2.9zM675.3 529.3h2.9V541.8h-2.9zM678.2 541.8h2.9V546.5h-2.9zM684 546.4h2.9V560.8h-2.9zM686.9 560.8h2.9V566.2h-2.9zM689.7 566.2h2.9V580.1h-2.9zM704.1 528.6h2.9V558h-2.9zM715.7 525.1h2.9V526.7h-2.9zM721.4 518.3h2.9V522h-2.9zM727.2 512.4h2.9V564.2h-2.9zM738.7 547.5h2.9V552.1h-2.9zM741.6 552.1h2.9V560.9h-2.9zM744.5 560.9h2.9V566.5h-2.9zM750.2 562.6h2.9V569.7h-2.9zM753.1 569.7h2.9V575.1h-2.9zM756 575.1h2.9V578.5h-2.9zM758.9 578.4h2.9V580h-2.9zM761.7 579.8h2.9V589h-2.9zM767.5 563.7h2.9V583.9h-2.9zM770.4 583.2h2.9V584.8h-2.9zM773.3 584h2.9V634.1h-2.9zM781.9 548.4h2.9V561.2h-2.9zM784.8 561.2h2.9V587.1h-2.9zM793.4 547.8h2.9V562.4h-2.9zM796.3 562.2h2.9V563.8h-2.9zM802.1 549h2.9V555.1h-2.9zM804.9 555.1h2.9V580.5h-2.9zM807.8 580.5h2.9V611.1h-2.9zM819.3 563h2.9V570.4h-2.9zM822.2 570.4h2.9V583.4h-2.9zM825.1 582.8h2.9V584.4h-2.9zM842.4 500.7h2.9V505.1h-2.9zM853.9 454.3h2.9V457.6h-2.9zM856.8 457.6h2.9V468.3h-2.9zM859.7 468.3h2.9V486.8h-2.9zM862.5 486.8h2.9V498.8h-2.9zM865.4 498.8h2.9V519.4h-2.9zM885.6 402.2h2.9V404.7h-2.9zM888.5 404.7h2.9V414.1h-2.9zM902.9 395.1h2.9V407.8h-2.9zM905.7 407.8h2.9V412.8h-2.9zM911.5 398.7h2.9V401.9h-2.9zM914.4 401.9h2.9V419.4h-2.9zM917.3 419.4h2.9V440.2h-2.9zM923 421.2h2.9V434.9h-2.9zM925.9 434.9h2.9V439.3h-2.9zM928.8 439.3h2.9V442.6h-2.9zM937.4 393.7h2.9V418h-2.9zM940.3 418h2.9V422.6h-2.9zM954.7 388h2.9V389.6h-2.9zM963.3 375.4h2.9V386h-2.9zM966.2 386h2.9V392.2h-2.9zM969.1 392.2h2.9V412h-2.9zM972 412h2.9V420.4h-2.9zM980.6 415.8h2.9V419.5h-2.9zM983.5 419.5h2.9V423.5h-2.9zM992.1 416.8h2.9V425.6h-2.9zM995 425.6h2.9V461.1h-2.9zM997.9 461.1h2.9V474.7h-2.9zM1000.8 474.7h2.9V477.3h-2.9zM1006.5 467.5h2.9V479.2h-2.9zM1015.2 466.5h2.9V487.1h-2.9zM1023.8 474.5h2.9V478.8h-2.9zM1026.7 478.8h2.9V507h-2.9zM1029.6 507h2.9V522.3h-2.9zM1032.5 522.3h2.9V524.8h-2.9zM1041.1 515.7h2.9V519.3h-2.9zM1044 519.3h2.9V535.8h-2.9zM1049.7 522.3h2.9V523.9h-2.9zM1052.6 523.1h2.9V525.8h-2.9zM1058.4 509.6h2.9V517.3h-2.9zM1069.9 472.8h2.9V488.8h-2.9zM1078.6 480.3h2.9V486.2h-2.9zM1081.4 486.2h2.9V490.2h-2.9zM1087.2 481.1h2.9V484.2h-2.9zM1093 480.7h2.9V486.8h-2.9zM1107.4 442.9h2.9V444.6h-2.9zM1110.2 444.6h2.9V447.3h-2.9zM1116 443.2h2.9V451.3h-2.9zM1118.9 451.3h2.9V465.5h-2.9zM1124.6 461.4h2.9V469h-2.9zM1130.4 454.4h2.9V462.3h-2.9zM1133.3 462.3h2.9V471.3h-2.9zM1139 465.8h2.9V469.1h-2.9zM1141.9 469.1h2.9V475.4h-2.9zM1144.8 475.4h2.9V498.3h-2.9zM1150.6 492.3h2.9V501.6h-2.9zM1170.7 403.5h2.9V405.3h-2.9zM1173.6 405.3h2.9V446h-2.9zM1176.5 446h2.9V453.7h-2.9zM1182.2 452.6h2.9V464.5h-2.9zM1185.1 464.5h2.9V470.1h-2.9zM1188 470.1h2.9V492.1h-2.9zM1190.9 492.1h2.9V498.9h-2.9zM1213.9 400.3h2.9V439.5h-2.9zM1231.2 369.1h2.9V378.6h-2.9zM1237 373.7h2.9V383.5h-2.9zM1251.4 336.3h2.9V348.7h-2.9zM1254.2 348.7h2.9V354.5h-2.9zM1260 345.9h2.9V363.6h-2.9zM1262.9 363.6h2.9V369.8h-2.9zM1280.2 355.9h2.9V362.7h-2.9zM1285.9 340.2h2.9V349.9h-2.9zM1291.7 338.7h2.9V361.3h-2.9zM1294.6 361.3h2.9V370.6h-2.9zM1306.1 327.9h2.9V344.3h-2.9zM1309 344.3h2.9V359.2h-2.9zM1317.6 323.7h2.9V325.3h-2.9zM1320.5 324.9h2.9V335.7h-2.9zM1323.4 335.7h2.9V347.6h-2.9zM1329.1 345.3h2.9V349.3h-2.9zM1343.5 318.2h2.9V326.4h-2.9zM1357.9 291h2.9V293.7h-2.9zM1372.3 254.4h2.9V284.8h-2.9zM1375.2 284.8h2.9V289.4h-2.9zM1381 289.4h2.9V294.5h-2.9zM1383.8 294.5h2.9V312.9h-2.9zM1386.7 312.9h2.9V329.6h-2.9zM1389.6 329.6h2.9V347.2h-2.9zM1392.5 347.2h2.9V372.6h-2.9zM1401.1 362.6h2.9V369.7h-2.9zM1404 369.7h2.9V386.5h-2.9zM1406.9 386.5h2.9V391.8h-2.9zM1412.6 377.6h2.9V393.8h-2.9zM1415.5 393.8h2.9V406.6h-2.9zM1424.2 375.8h2.9V383.8h-2.9zM1432.8 348.4h2.9V369.6h-2.9zM1447.2 297.7h2.9V305.1h-2.9zM1450.1 305.1h2.9V321.7h-2.9zM1455.8 301.1h2.9V302.7h-2.9zM1458.7 302.4h2.9V325h-2.9zM1467.4 303.1h2.9V325.1h-2.9zM1473.1 318h2.9V333h-2.9zM1476 333h2.9V352.8h-2.9zM1481.8 344.6h2.9V365.5h-2.9zM1484.6 365.5h2.9V378.3h-2.9zM1496.2 329.6h2.9V334.2h-2.9z" fill="#1c0808"/>
<path d="M57.6 604.3V610.5M60.5 597V602.5M63.4 580.8V595.2M69.1 575.1V592.6M72 569.1V573.3M77.8 559.3V572.4M80.6 521.6V557.5M92.2 548.3V554.1M100.8 576.3V589.8M103.7 545.9V574.5M112.3 499.9V546.1M115.2 462.6V498.1M118.1 450.8V460.8M121 428.9V449M123.8 408.1V427.1M129.6 445.1V447.2M138.2 415.9V465.5M141.1 395.2V414.1M149.8 357V396M152.6 320V355.2M167 303.6V329.1M169.9 298.9V301.8M172.8 257.4V297.1M178.6 249.6V254.7M195.8 331.1V338.1M204.5 334.1V336M207.4 310.9V332.3M210.2 289V309.1M213.1 276.2V287.2M224.6 282.2V306.7M227.5 258.9V280.4M233.3 243.7V259.7M236.2 229V241.9M239 220.3V227.2M241.9 209.3V218.5M247.7 206.3V215.9M250.6 193.2V204.5M259.2 184.6V212.5M262.1 161.7V182.8M265 117V159.9M279.4 141.4V174.2M290.9 243.5V251.5M293.8 234.9V241.7M302.4 246.2V265.3M311 261.7V264.8M313.9 251V259.9M316.8 232.7V249.2M334.1 295.4V320.3M339.8 293.8V298.1M354.2 339.2V352.2M357.1 324.8V337.4M360 317.9V323M368.6 304.4V335.1M371.5 293.3V302.6M380.2 297.4V312.4M394.6 340.3V345.8M403.2 353.1V372.7M426.2 392.2V422.7M434.9 409.9V424M437.8 389.6V408.1M440.6 366.5V387.8M460.8 411.5V422.9M463.7 373.3V409.7M466.6 364.9V371.5M469.4 357.3V363.1M478.1 370.8V378.5M481 367.8V369M489.6 391.6V396M504 417.4V421.2M506.9 413.7V415.6M521.3 462.3V468.4M532.8 476.2V488.7M535.7 451.3V474.4M538.6 439.3V449.5M541.4 424.3V437.5M544.3 415.4V422.5M547.2 407.5V413.6M550.1 390V405.7M555.8 368.2V393.3M558.7 349.5V366.4M584.6 504.9V516.8M590.4 498.5V534.1M596.2 482.2V501.9M601.9 475.7V483.7M604.8 464V473.9M613.4 446.6V475.4M616.3 374.7V444.8M619.2 372.2V372.9M639.4 451.4V462.1M642.2 431.9V449.6M653.8 486.9V496.4M662.4 519.4V545.2M665.3 514.2V517.6M668.2 511.2V512.4M694.1 578.6V579.2M697 571.2V576.8M699.8 549.4V569.4M702.7 529.5V547.6M711.4 540.8V555.4M714.2 526.5V539M720 519.2V525.3M725.8 513.3V521.1M731.5 562.3V563.3M734.4 551.5V560.5M737.3 548.4V549.7M748.8 563.5V565.6M766.1 564.6V588.1M777.6 570.5V633.2M780.5 549.3V568.7M789.1 569.5V586.2M792 548.7V567.7M800.6 549.9V562.6M812.2 603V610.2M815 574.7V601.2M817.9 563.9V572.9M829.4 548.3V582.9M832.3 544.1V546.5M835.2 528.9V542.3M838.1 508.7V527.1M841 501.6V506.9M846.7 479V504.2M849.6 460.6V477.2M852.5 455.2V458.8M869.8 512.4V518.5M872.6 495.9V510.6M875.5 449.7V494.1M878.4 438.9V447.9M881.3 434.6V437.1M884.2 403.1V432.8M892.8 411.1V413.2M901.4 396V407.2M910.1 399.6V411.9M921.6 422.1V439.3M933.1 437.7V441.7M936 394.6V435.9M944.6 399.7V421.7M947.5 392.9V397.9M953.3 389.5V390.6M959 381.4V388M961.9 376.3V379.6M976.3 416.8V419.5M987.8 420.2V422.6M990.7 417.7V418.4M1005.1 468.4V476.4M1010.9 477.7V478.3M1013.8 467.4V475.9M1019.5 484.1V486.2M1022.4 475.4V482.3M1039.7 516.6V523.1M1048.3 524V534.9M1057 510.5V524.9M1062.7 508.7V516.4M1065.6 493.6V506.9M1068.5 473.7V491.8M1074.2 485.1V487.9M1077.1 481.2V483.3M1085.8 482V489.3M1091.5 481.6V483.3M1097.3 483.2V485.9M1100.2 461.1V481.4M1103 450.1V459.3M1105.9 443.8V448.3M1114.6 444.1V446.4M1123.2 462.3V464.6M1129 455.3V468.1M1137.6 466.7V470.4M1149.1 493.2V497.4M1154.9 489.5V500.7M1157.8 466.6V487.7M1160.6 439.3V464.8M1163.5 434.5V437.5M1166.4 423.8V432.7M1169.3 404.4V422M1195.2 491.7V498M1198.1 482.8V489.9M1201 455.8V481M1203.8 452.4V454M1206.7 441V450.6M1212.5 401.2V438M1218.2 418.3V438.6M1221.1 380.5V416.5M1224 375.1V378.7M1229.8 370V372.1M1235.5 374.6V377.7M1244.2 353.2V380.5M1247 343.6V351.4M1249.9 337.2V341.8M1258.6 346.8V353.6M1267.2 365.8V368.9M1275.8 360V361.4M1278.7 356.8V358.2M1284.5 341.1V361.8M1290.2 339.6V349M1298.9 350V369.7M1301.8 343V348.2M1304.6 328.8V341.2M1313.3 350.9V358.3M1316.2 325V349.1M1333.4 345.4V348.4M1336.3 334.8V343.6M1339.2 327.2V333M1342.1 319.1V325.4M1347.8 324V325.5M1350.7 300V322.2M1353.6 292.8V298.2M1362.2 280.2V292.8M1365.1 271.6V278.4M1370.9 255.3V269.3M1396.8 367.7V371.7M1399.7 363.5V365.9M1411.2 378.5V390.9M1419.8 403.5V405.7M1422.7 376.7V401.7M1428.5 378.3V382.9M1431.4 349.3V376.5M1437.1 338.9V368.7M1440 332.6V337.1M1442.9 299.4V330.8M1454.4 302.3V320.8M1463 323.2V324.1M1465.9 304V321.4M1471.7 318.9V324.2M1480.3 345.5V351.9M1489 373.7V377.4M1491.8 368.8V371.9M1494.7 330.5V367M1500.5 310.1V333.3M1503.4 299.8V308.3M1506.2 289.4V298M1509.1 270.2V287.6" stroke="#2f6a31" stroke-width="1.1" fill="none"/>
<path d="M66.2 580.8V592.6M74.9 569.1V572.4M83.5 521.6V530.2M86.4 532V551.1M89.3 552.9V554.1M95 548.3V571.1M97.9 572.9V589.8M106.6 545.9V546.8M126.7 408.1V447.2M132.5 445.1V454M135.4 455.8V465.5M146.9 395.2V396M161.3 320V325.6M164.2 327.4V329.1M181.4 249.6V266M184.3 267.8V308.9M187.2 310.7V312M193 315.9V338.1M198.7 331.1V335.2M216 276.2V283.1M218.9 284.9V296.2M221.8 298V306.7M230.4 258.9V259.7M244.8 209.3V215.9M253.4 193.2V212.8M267.8 117V131M270.7 132.8V147.1M276.5 149.8V174.2M282.2 141.4V178.4M285.1 180.2V229.4M288 231.2V251.5M296.6 234.9V250.6M299.5 252.4V265.3M305.3 246.2V253.1M308.2 254.9V264.8M319.7 232.7V259.4M322.6 261.2V290.5M325.4 292.3V303.2M328.3 305V315.2M331.2 317V320.3M337 295.4V298.1M342.7 293.8V295.9M345.6 297.7V309.8M348.5 311.6V348.2M351.4 350V352.2M362.9 317.9V319.6M365.8 321.4V335.1M374.4 293.3V295.6M377.3 297.4V312.4M383 297.4V312.4M385.9 314.2V331.6M388.8 333.4V344.8M397.4 340.3V374.1M409 354V380.9M411.8 382.7V397.2M414.7 399V399.7M417.6 401.5V402.6M420.5 404.4V417M423.4 418.8V422.7M429.1 392.2V399.4M432 401.2V424M446.4 364.9V369.4M449.3 371.2V378.2M452.2 380V388.3M455 390.1V405.3M457.9 407.1V422.9M472.3 357.3V377.5M483.8 367.8V375.7M486.7 377.5V396M492.5 391.6V393.1M495.4 394.9V424M509.8 413.7V436.4M512.6 438.2V440.3M515.5 442.1V461.4M518.4 463.2V468.4M524.2 462.3V470.2M527 472V488.8M553 390V393.3M561.6 349.5V354.1M564.5 355.9V370M567.4 371.8V399.9M570.2 401.7V420M573.1 421.8V454.8M576 456.6V509.5M581.8 510.8V516.8M587.5 504.9V534.1M593.3 498.5V501.9M599 482.2V483.7M607.7 464V470M610.6 471.8V475.4M622.1 372.2V393.9M625 395.7V402.5M627.8 404.3V416.5M630.7 418.3V436.9M633.6 438.7V441.9M636.5 443.7V462.1M645.1 431.9V458.5M648 460.3V482.3M650.9 484.1V496.4M656.6 486.9V519.9M659.5 521.7V545.2M671 511.2V526.7M676.8 530.2V540.9M679.7 542.7V545.6M685.4 547.3V559.9M688.3 561.7V565.3M691.2 567.1V579.2M705.6 529.5V557.1M722.9 519.2V521.1M728.6 513.3V563.3M740.2 548.4V551.2M743 553V560M745.9 561.8V565.6M751.7 563.5V568.8M754.6 570.6V574.2M757.4 576V577.6M763.2 580.7V588.1M769 564.6V583M774.7 584.9V633.2M783.4 549.3V560.3M786.2 562.1V586.2M794.9 548.7V561.5M803.5 549.9V554.2M806.4 556V579.6M809.3 581.4V610.2M820.8 563.9V569.5M823.7 571.3V582.5M843.8 501.6V504.2M855.4 455.2V456.7M858.2 458.5V467.4M861.1 469.2V485.9M864 487.7V497.9M866.9 499.7V518.5M887 403.1V403.8M889.9 405.6V413.2M904.3 396V406.9M907.2 408.7V411.9M913 399.6V401M915.8 402.8V418.5M918.7 420.3V439.3M924.5 422.1V434M927.4 435.8V438.4M930.2 440.2V441.7M938.9 394.6V417.1M941.8 418.9V421.7M964.8 376.3V385.1M967.7 386.9V391.3M970.6 393.1V411.1M973.4 412.9V419.5M982.1 416.7V418.6M985 420.4V422.6M993.6 417.7V424.7M996.5 426.5V460.2M999.4 462V473.8M1002.2 475.6V476.4M1008 468.4V478.3M1016.6 467.4V486.2M1025.3 475.4V477.9M1028.2 479.7V506.1M1031 507.9V521.4M1033.9 523.2V523.9M1042.6 516.6V518.4M1045.4 520.2V534.9M1054.1 524V524.9M1059.8 510.5V516.4M1071.4 473.7V487.9M1080 481.2V485.3M1082.9 487.1V489.3M1088.6 482V483.3M1094.4 481.6V485.9M1111.7 445.5V446.4M1117.4 444.1V450.4M1120.3 452.2V464.6M1126.1 462.3V468.1M1131.8 455.3V461.4M1134.7 463.2V470.4M1140.5 466.7V468.2M1143.4 470V474.5M1146.2 476.3V497.4M1152 493.2V500.7M1175 406.2V445.1M1177.9 446.9V452.8M1183.7 453.5V463.6M1186.6 465.4V469.2M1189.4 471V491.2M1192.3 493V498M1215.4 401.2V438.6M1232.6 370V377.7M1238.4 374.6V382.6M1252.8 337.2V347.8M1255.7 349.6V353.6M1261.4 346.8V362.7M1264.3 364.5V368.9M1281.6 356.8V361.8M1287.4 341.1V349M1293.1 339.6V360.4M1296 362.2V369.7M1307.5 328.8V343.4M1310.4 345.2V358.3M1321.9 325.8V334.8M1324.8 336.6V346.7M1330.6 346.2V348.4M1345 319.1V325.5M1359.4 291.9V292.8M1373.8 255.3V283.9M1376.6 285.7V288.5M1382.4 290.3V293.6M1385.3 295.4V312M1388.2 313.8V328.7M1391 330.5V346.3M1393.9 348.1V371.7M1402.6 363.5V368.8M1405.4 370.6V385.6M1408.3 387.4V390.9M1414.1 378.5V392.9M1417 394.7V405.7M1425.6 376.7V382.9M1434.2 349.3V368.7M1448.6 298.6V304.2M1451.5 306V320.8M1460.2 303.3V324.1M1468.8 304V324.2M1474.6 318.9V332.1M1477.4 333.9V351.9M1483.2 345.5V364.6M1486.1 366.4V377.4M1497.6 330.5V333.3" stroke="#8a2626" stroke-width="1.1" fill="none"/>

<line x1="56.5" y1="645.5" x2="1851" y2="645.5" stroke="#2a2e39" stroke-width="1.2"/>

<g stroke="#3463e0" stroke-width="1.6" fill="none" stroke-linecap="round" stroke-linejoin="round">
<path d="M361.3 84.2L292.7 96.3M300.7 87L292.7 96.3L303.5 103.8"/>
<path d="M1479 73.5L1555 103.5M1542.5 108.5L1555 103.5L1549 92.5"/>
<path d="M1565 206L1525 247.5M1524.5 236L1525 247.5L1537 247"/>
<path d="M1562 459L1523 435M1527 446.5L1523 435L1534.5 433"/>
</g>
<line x1="774.5" y1="632" x2="1693" y2="378.5" stroke="#33353c" stroke-width="2"/>
<g font-size="16.3" fill="#131722" stroke="#131722" stroke-width="0.25">
<text x="1411.7" y="150.3" textLength="128.7" lengthAdjust="spacingAndGlyphs">TARGET DI MEDIO</text>
<text x="1411.7" y="167.3" textLength="118.2" lengthAdjust="spacingAndGlyphs">TERMINE 0.9515</text>
<text x="1574" y="208" textLength="128.7" lengthAdjust="spacingAndGlyphs">TARGET DI BREVE</text>
<text x="1574" y="224.8" textLength="152" lengthAdjust="spacingAndGlyphs">TERMINE 0.9260 - 90</text>
<text x="1579.2" y="467.4" textLength="133.6" lengthAdjust="spacingAndGlyphs">SUPPORTO CHIAVE</text>
</g>

<rect x="1794.3" y="106" width="53.7" height="17" rx="1.5" fill="#9a9da6"/><text x="1802.3" y="118.8" font-size="12" fill="#131722" textLength="40" lengthAdjust="spacingAndGlyphs">0.95147</text><rect x="1741" y="89" width="52" height="16.5" fill="#e3effd"/><text x="1745" y="101.5" font-size="11.5" fill="#2a2e39" textLength="43" lengthAdjust="spacingAndGlyphs">Massimo</text><rect x="1794.3" y="89" width="53.7" height="16.5" rx="1.5" fill="#e3effd"/><text x="1802.3" y="101.5" font-size="12" fill="#131722" textLength="40" lengthAdjust="spacingAndGlyphs">0.95473</text><rect x="1772" y="140" width="20.5" height="20" rx="1.5" fill="#131722"/><circle cx="1782.3" cy="150" r="5.6" fill="none" stroke="#fff" stroke-width="1"/><path d="M1779 150h6.6M1782.3 146.7v6.6" stroke="#fff" stroke-width="1"/><rect x="1794.3" y="140" width="53.7" height="20" rx="1.5" fill="#131722"/><text x="1802.3" y="154.3" font-size="12" fill="#ffffff" font-weight="bold" textLength="40" lengthAdjust="spacingAndGlyphs">0.94509</text><rect x="1794.3" y="225" width="53.7" height="16.5" rx="1.5" fill="#9a9da6"/><text x="1802.3" y="237.6" font-size="12" fill="#131722" textLength="40" lengthAdjust="spacingAndGlyphs">0.92870</text><rect x="1794.3" y="241.5" width="53.7" height="16.5" rx="1.5" fill="#9a9da6"/><text x="1802.3" y="254.1" font-size="12" fill="#131722" textLength="40" lengthAdjust="spacingAndGlyphs">0.92658</text><rect x="1741" y="258" width="52" height="17" rx="1.5" fill="#43a047"/><text x="1746" y="271" font-size="11.5" fill="#fff" textLength="42" lengthAdjust="spacingAndGlyphs">AUDCAD</text><rect x="1794.3" y="258" width="53.7" height="17" rx="1.5" fill="#43a047"/><text x="1802.3" y="270.8" font-size="12" fill="#ffffff" font-weight="bold" textLength="40" lengthAdjust="spacingAndGlyphs">0.92389</text><rect x="1794.3" y="318" width="53.7" height="17" rx="1.5" fill="#2196f3"/><text x="1802.3" y="330.8" font-size="12" fill="#ffffff" font-weight="bold" textLength="40" lengthAdjust="spacingAndGlyphs">0.91287</text><rect x="1794.3" y="341" width="53.7" height="17" rx="1.5" fill="#f23645"/><text x="1802.3" y="353.8" font-size="12" fill="#ffffff" font-weight="bold" textLength="40" lengthAdjust="spacingAndGlyphs">0.90883</text><rect x="1794.3" y="358" width="53.7" height="16.5" rx="1.5" fill="#9a9da6"/><text x="1802.3" y="370.6" font-size="12" fill="#131722" textLength="40" lengthAdjust="spacingAndGlyphs">0.90675</text><rect x="1794.3" y="374.5" width="53.7" height="16.5" rx="1.5" fill="#4caf50"/><text x="1802.3" y="387.1" font-size="12" fill="#ffffff" font-weight="bold" textLength="40" lengthAdjust="spacingAndGlyphs">0.90367</text><rect x="1794.3" y="416" width="53.7" height="17" rx="1.5" fill="#9a9da6"/><text x="1802.3" y="428.8" font-size="12" fill="#131722" textLength="40" lengthAdjust="spacingAndGlyphs">0.89503</text><rect x="1747" y="628" width="46" height="17" fill="#e3effd"/><text x="1751" y="640.5" font-size="11.5" fill="#2a2e39" textLength="37" lengthAdjust="spacingAndGlyphs">Minimo</text><rect x="1794.3" y="628" width="53.7" height="17" rx="1.5" fill="#e3effd"/><text x="1802.3" y="640.8" font-size="12" fill="#131722" textLength="40" lengthAdjust="spacingAndGlyphs">0.85639</text><rect x="1794.3" y="646" width="41" height="17" rx="1.5" fill="#2196f3"/><text x="1802.3" y="658.8" font-size="12" fill="#ffffff" font-weight="bold" textLength="30" lengthAdjust="spacingAndGlyphs">99.24</text><rect x="1794.3" y="663" width="41" height="17" rx="1.5" fill="#ff6d00"/><text x="1802.3" y="675.8" font-size="12" fill="#ffffff" font-weight="bold" textLength="30" lengthAdjust="spacingAndGlyphs">90.92</text>
<text x="82" y="731.3" font-size="12" fill="#b2b5be" textLength="20" lengthAdjust="spacingAndGlyphs">Nov</text><text x="202" y="731.3" font-size="12" fill="#b2b5be" font-weight="bold" textLength="27" lengthAdjust="spacingAndGlyphs">2023</text><text x="327" y="731.3" font-size="12" fill="#b2b5be" textLength="19" lengthAdjust="spacingAndGlyphs">Mar</text><text x="452" y="731.3" font-size="12" fill="#b2b5be" textLength="21" lengthAdjust="spacingAndGlyphs">Mag</text><text x="582" y="731.3" font-size="12" fill="#b2b5be" textLength="18" lengthAdjust="spacingAndGlyphs">Lug</text><text x="712" y="731.3" font-size="12" fill="#b2b5be" textLength="16" lengthAdjust="spacingAndGlyphs">Set</text><text x="837" y="731.3" font-size="12" fill="#b2b5be" textLength="19" lengthAdjust="spacingAndGlyphs">Nov</text><text x="952" y="731.3" font-size="12" fill="#b2b5be" font-weight="bold" textLength="27" lengthAdjust="spacingAndGlyphs">2024</text><text x="1079" y="731.3" font-size="12" fill="#b2b5be" textLength="19" lengthAdjust="spacingAndGlyphs">Mar</text><text x="1204" y="731.3" font-size="12" fill="#b2b5be" textLength="21" lengthAdjust="spacingAndGlyphs">Mag</text><text x="1333" y="731.3" font-size="12" fill="#b2b5be" textLength="18" lengthAdjust="spacingAndGlyphs">Lug</text><text x="1461" y="731.3" font-size="12" fill="#b2b5be" textLength="16" lengthAdjust="spacingAndGlyphs">Set</text><text x="1591" y="731.3" font-size="12" fill="#b2b5be" textLength="19" lengthAdjust="spacingAndGlyphs">Nov</text><text x="1714" y="731.3" font-size="12" fill="#b2b5be" font-weight="bold" textLength="26" lengthAdjust="spacingAndGlyphs">2025</text><rect x="1100" y="715" width="70" height="22" rx="2" fill="#131722"/><text x="1108" y="730.8" font-size="12" fill="#fff" font-weight="bold" textLength="53" lengthAdjust="spacingAndGlyphs">24 Mar '24</text><path d="M1817.6 728.5l3-5.2h6l3 5.2l-3 5.2h-6z" fill="none" stroke="#131722" stroke-width="1.1"/><circle cx="1823.6" cy="728.5" r="1.5" fill="none" stroke="#131722" stroke-width="1"/>

<text x="62" y="59.5" font-size="12.5" fill="#131722" textLength="132" lengthAdjust="spacingAndGlyphs">AUDCAD · AUDCAD · 1D</text>
<circle cx="215.3" cy="55.3" r="6.5" fill="#d6f0ea"/><circle cx="215.3" cy="55.3" r="3" fill="#089981"/>
<text x="235" y="59" font-size="11" fill="#2a2e39" textLength="430" lengthAdjust="spacingAndGlyphs">O - Aper.0.88536  H - Max.0.88660  L - Min.0.88463  C - Chius.0.88637  +0.00045 (+0.05%)</text>
<g fill="#fff" stroke="#d1d4dc" stroke-width="1"><rect x="1723.5" y="45.5" width="19.5" height="19.5" rx="3"/><rect x="1747.5" y="45.5" width="19" height="19.5" rx="3"/><rect x="1771.5" y="45.5" width="19" height="19.5" rx="3"/></g>
<g stroke="#131722" stroke-width="1.1" fill="none" stroke-linecap="round" stroke-linejoin="round">
<path d="M1733.2 51v8M1730.2 56.2l3 3l3-3"/>
<path d="M1754.2 50.5l2.8 2.8l2.8-2.8M1754.2 60l2.8-2.8l2.8 2.8"/>
<path d="M1776.5 53.5v-1.2a2 2 0 0 1 2-2h5a2 2 0 0 1 2 2v1.2M1776.5 57v1.2a2 2 0 0 0 2 2h5a2 2 0 0 0 2-2v-1.2"/>
</g>

</svg>
<svg class="abs" style="left:0;top:0" width="1917" height="44" viewBox="0 0 1917 44" fill="none" stroke="#d1d4dc" stroke-width="1.2" stroke-linecap="round" stroke-linejoin="round">
<circle cx="21.5" cy="23.5" r="4.3"/><path d="M24.7 26.7l3 3"/>
<circle cx="106" cy="24.5" r="7.5"/><path d="M102.5 24.5h7M106 21v7"/>
<path d="M126.5 16v17M165.5 16v17M204.5 16v17M299.5 16v17M1753.5 16v17" stroke="#2a2e39"/>
<path d="M181 18v3M181 30v3M188.5 20v2.5M188.5 28v3"/><rect x="179.2" y="21" width="3.6" height="9" rx="1"/><rect x="186.8" y="22.5" width="3.4" height="5.5" rx="1"/>
<path d="M218 32c2 .6 3-.5 3.3-3l1.2-9c.3-2.5 1.4-3.5 3.4-2.8M219.5 22.5h6M226 28l3.5 3.5M229.5 28l-3.5 3.5"/>
<path d="M316.5 19.5l-3.5 3.5l3.5 3.5M313.5 23h6.5a3.2 3.2 0 0 1 3.2 3.2v1.3"/>
<path d="M351.5 19.5l3.5 3.5l-3.5 3.5M354.5 23h-6.5a3.2 3.2 0 0 0-3.2 3.2v1.3" stroke="#50535e"/>
<rect x="1655" y="18.5" width="16" height="13" rx="2"/><path d="M1663 18.5v13"/>
<path d="M1738.5 23l2.8 2.5l2.8-2.5" stroke-width="1"/>
<path d="M1770.5 19.2a6.2 6.2 0 1 0 6.700 8.2M1776.3 28.3l3.700 3.700M1774.5 16.5l-2.5 5h3.5l-2 4.5"/>
<circle cx="1804" cy="24.5" r="2.6"/><path d="M1802.6 16.8h2.8l.5 2.3l1.900 1.100l2.3-.8l1.4 2.4l-1.8 1.6v2.2l1.8 1.6l-1.4 2.4l-2.3-.8l-1.900 1.100l-.5 2.3h-2.8l-.5-2.3l-1.900-1.100l-2.3.8l-1.4-2.4l1.8-1.6v-2.2l-1.8-1.6l1.4-2.4l2.3.8l1.900-1.100z"/>
<path d="M1828 21.5a1.5 1.5 0 0 1 1.5-1.5h2.5l1.2-1.8h5.6l1.2 1.8h2.5a1.5 1.5 0 0 1 1.5 1.5v8a1.5 1.5 0 0 1-1.5 1.5h-13a1.5 1.5 0 0 1-1.5-1.5z"/><circle cx="1836" cy="25.3" r="3"/>
</svg>
<svg class="abs" style="left:0;top:44px" width="56" height="520" viewBox="0 44 56 520" fill="none" stroke="#d1d4dc" stroke-width="1.1" stroke-linecap="round" stroke-linejoin="round">
<path d="M24.5 56l1.2 11.5l2.8-3l2.3 4.3l1.5-.8l-2.3-4.3l4-.8z" stroke="#3d6bff"/>
<path d="M21 91.5h6M31 91.5h7"/><circle cx="29" cy="91.5" r="1.8"/>
<path d="M20.5 114h16.5M20.5 118.5h16.5M20.5 123h16.5M23.5 127.5h14"/><circle cx="38.5" cy="118.5" r="1.5"/><circle cx="21.5" cy="127.5" r="1.5"/>
<path d="M24.5 145l-2.5 11.5M24.5 145l11 11M33.5 145l-11 11.5M33.5 145l3 11"/><circle cx="24.5" cy="144" r="1.4"/><circle cx="33.5" cy="144" r="1.4"/><circle cx="21.5" cy="157.5" r="1.4"/><circle cx="37" cy="157" r="1.4"/>
<path d="M23.5 175.5h14M23.5 183h14M23.5 188.5h14M25 182l9-3" /><circle cx="21.5" cy="175.5" r="1.4"/><circle cx="36.5" cy="183" r="1.4"/><circle cx="21.5" cy="183" r="1.4"/><circle cx="21.5" cy="188.5" r="1.4"/>
<path d="M23.5 217.5l10-10"/><circle cx="22.5" cy="218.5" r="1.5"/><circle cx="36.5" cy="204.5" r="1.5"/><path d="M30.5 206.5l5 -1l-1.3 5z" fill="#d1d4dc"/>
<path d="M23.5 237v-2.5h12.5v2.5M29.700 234.5v14M27 248.5h5.5" stroke-width="1.3"/>
<circle cx="29.5" cy="271.5" r="9"/><path d="M25.8 273.5c1.5 2.5 6 2.5 7.5 0"/><circle cx="27" cy="269" r=".6" fill="#d1d4dc"/><circle cx="32" cy="269" r=".6" fill="#d1d4dc"/>
<path d="M15 292.5h30M15 362.5h30M15 523.5h30" stroke="#2a2e39"/>
<path d="M20.5 316.5l13.5-12l4.5 5l-13.5 12zM24 313.5l1.5 1.700M27 311l1.5 1.700M30 308.2l1.5 1.700M33 305.5l1.5 1.700"/>
<circle cx="28.5" cy="341" r="6.5"/><path d="M33.3 346l3.700 3.700M25.5 341h6M28.5 338v6"/>
<path d="M23 390v-8a6.5 6.5 0 0 1 13 0v8h-3.700v-8a2.8 2.8 0 0 0-5.6 0v8zM23 386.5h3.700M32.3 386.5h3.700"/>
<rect x="17" y="401" width="25" height="25" rx="3" fill="#2962ff" stroke="none"/>
<path d="M21.5 415.5l1-4l9-9l3 3l-9 9zM29.5 404.5l3 3" stroke="#fff"/><rect x="31.5" y="415" width="6.5" height="5.5" rx="1" stroke="#fff"/><path d="M33 415v-1.8a1.8 1.8 0 0 1 3.6 0v1.8" stroke="#fff"/>
<rect x="23.5" y="439.5" width="12.5" height="10" rx="1.5"/><path d="M26 439.5v-3a3.3 3.3 0 0 1 6.3-1.3M29.700 443.5v2"/>
<path d="M21 468c4.5-6.5 12.5-6.5 17 0c-4.5 6.5-12.5 6.5-17 0z"/><circle cx="29.5" cy="468" r="2.5"/><path d="M31 479.5l5.5-4M33.5 475.5l2 3.5"/>
<rect x="17" y="491" width="25" height="25" rx="3" fill="#2962ff" stroke="none"/>
<g transform="rotate(-45 29.5 503.5)" stroke="#fff" stroke-width="1.2"><path d="M27.5 500.700h-4a2.8 2.8 0 0 0 0 5.6h4.5a2.8 2.8 0 0 0 2.700-2"/><path d="M31.5 506.3h4a2.8 2.8 0 0 0 0-5.6h-4.5a2.8 2.8 0 0 0-2.700 2"/></g>
<path d="M22.5 538.5h13.5M26.5 538.5v-2h5.5v2M24 538.5l.8 11.5h9l.8-11.5M27.5 541.5v6M31 541.5v6"/>
</svg>
<svg class="abs" style="left:1852px;top:0" width="65" height="130" viewBox="1852 0 65 130" fill="none" stroke="#9094a0" stroke-width="1.2" stroke-linecap="round" stroke-linejoin="round">
<rect x="1873.5" y="30.5" width="22.5" height="16" rx="2"/><path d="M1874 32.5l10.8 8.5l10.8-8.5"/>
<circle cx="1897" cy="48" r="6.5" fill="#f23645" stroke="none"/>
<path d="M1878.5 101.5v-16a2 2 0 0 1 2-2h13.5a2 2 0 0 1 2 2v14a2 2 0 0 1-2 2h-17a2.5 2.5 0 0 1-2.5-2.5v-10.5h3.5M1882 87h5v4.5h-5zM1889.5 87.5h3.5M1889.5 91h3.5M1882 94.5h11M1882 97.8h11"/>
</svg>
<div class="t" id="t1" style="left:31.3px;top:18.4px;font-size:12.5px;font-weight:bold;color:#e4e6eb;transform:scaleX(0.829)">AUDCAD</div>
<div class="t" id="t2" style="left:142.5px;top:18.6px;font-size:12.5px;font-weight:bold;color:#e4e6eb;transform:scaleX(0.830)">D</div>
<div class="t" id="t3" style="left:237.5px;top:18.6px;font-size:12.5px;font-weight:bold;color:#e4e6eb;transform:scaleX(0.883)">Indicatori</div>
<div class="t" id="t4" style="left:1691.8px;top:15.2px;font-size:12.5px;font-weight:bold;color:#e4e6eb;transform:scaleX(0.833)">Salva</div>
<div class="t" id="t5" style="left:1696px;top:27.8px;font-size:9px;font-weight:bold;color:#2f5fff;transform:scaleX(0.786)">Salva</div>
<div class="t" id="t6" style="left:1892.3px;top:42.9px;font-size:9.5px;font-weight:normal;color:#3a1014;transform:scaleX(0.889)">51</div>

<div class="abs" style="left:3px;top:409px;width:8px;height:27px;background:#131722;border:1px solid #2a2e39;border-left:none;border-radius:0 3px 3px 0;box-sizing:border-box"></div>
<svg class="abs" style="left:2px;top:415px" width="10" height="16" viewBox="0 0 10 16" fill="none" stroke="#d1d4dc" stroke-width="1.1"><path d="M3 4.5l3 3.5l-3 3.5"/></svg>
<svg class="abs" style="left:50px;top:706px" width="7" height="20" viewBox="0 0 7 20" fill="none" stroke="#9094a0" stroke-width="1"><path d="M5.5 0.5h-3a2 2 0 0 0-2 2v15a2 2 0 0 0 2 2h3" fill="#131722"/><path d="M4.5 8l-2 2.5l2 2.5"/></svg>

<!-- bottom toolbar -->
<div class="t" id="b1" style="left:68.4px;top:753.4px;font-size:11px;font-weight:bold;color:#e4e6eb;transform:scaleX(0.839)">Powered by</div>
<div class="t" id="b2" style="left:122.5px;top:753.4px;font-size:11px;font-weight:normal;color:#3d8bff;transform:scaleX(0.884)"><u>TradingView</u></div>
<div class="t" id="b3" style="left:199.3px;top:753.0px;font-size:12.5px;font-weight:bold;color:#e4e6eb;transform:scaleX(0.838)">1D</div>
<div class="t" id="b4" style="left:222.7px;top:753.0px;font-size:12.5px;font-weight:bold;color:#e4e6eb;transform:scaleX(0.832)">5D</div>
<div class="t" id="b5" style="left:246px;top:753.0px;font-size:12.5px;font-weight:bold;color:#e4e6eb;transform:scaleX(0.852)">1M</div>
<div class="t" id="b6" style="left:270.5px;top:753.0px;font-size:12.5px;font-weight:bold;color:#e4e6eb;transform:scaleX(0.863)">3M</div>
<div class="t" id="b7" style="left:294.8px;top:753.0px;font-size:12.5px;font-weight:bold;color:#e4e6eb;transform:scaleX(0.863)">6M</div>
<div class="t" id="b8" style="left:319.5px;top:753.0px;font-size:12.5px;font-weight:bold;color:#e4e6eb;transform:scaleX(0.830)">1Y</div>
<div class="t" id="b9" style="left:342px;top:753.0px;font-size:12.5px;font-weight:bold;color:#e4e6eb;transform:scaleX(0.824)">5Y</div>
<div class="t" id="b10" style="left:364.6px;top:753.0px;font-size:12.5px;font-weight:bold;color:#e4e6eb;transform:scaleX(0.857)">All</div>
<div class="t" id="b11" style="left:1640.3px;top:753.0px;font-size:12.5px;font-weight:bold;color:#e4e6eb;transform:scaleX(0.891)">07:40:36 (UTC+2)</div>
<div class="t" id="b12" style="left:1749.5px;top:753.0px;font-size:12.5px;font-weight:bold;color:#e4e6eb;transform:scaleX(0.989)">%</div>
<div class="t" id="b13" style="left:1770.5px;top:752.5px;font-size:12.5px;font-weight:bold;color:#e4e6eb;transform:scaleX(0.827)">log</div>
<div class="t" id="b14" style="left:1795.5px;top:752.5px;font-size:12.5px;font-weight:bold;color:#e4e6eb;transform:scaleX(0.913)">auto</div>
<div class="t" id="p1" style="left:56px;top:801.6px;font-size:16px;font-weight:normal;color:#d8dae0;transform:scaleX(0.918)">New Order</div>
<div class="t" id="p2" style="left:808px;top:806.5px;font-size:17.5px;font-weight:normal;color:#2f7de0;transform:scaleX(0.925)">Positions</div>
<div class="t" id="p3" style="left:879.4px;top:801.5px;font-size:13.5px;font-weight:normal;color:#2f7de0;transform:scaleX(0.998)">20</div>
<div class="t" id="p4" style="left:954.5px;top:806.5px;font-size:17.5px;font-weight:normal;color:#d8dae0;transform:scaleX(0.937)">Orders</div>
<div class="t" id="p5" style="left:1065.7px;top:806.5px;font-size:17.5px;font-weight:normal;color:#d8dae0;transform:scaleX(0.979)">History</div>

<div class="abs" style="left:54px;top:742px;width:1px;height:34px;background:#1e222d"></div>
<div class="abs" style="left:187px;top:742px;width:1px;height:34px;background:#1e222d"></div>
<div class="abs" style="left:387px;top:750px;width:1px;height:18px;background:#2a2e39"></div>
<div class="abs" style="left:1739px;top:750px;width:1px;height:18px;background:#2a2e39"></div>
<svg class="abs" style="left:396px;top:749px" width="20" height="20" viewBox="0 0 20 20" fill="none" stroke="#d1d4dc" stroke-width="1.1" stroke-linecap="round" stroke-linejoin="round"><path d="M3 13.5v-8.5a1.5 1.5 0 0 1 1.5-1.5h11a1.5 1.5 0 0 1 1.5 1.5v10a1.5 1.5 0 0 1-1.5 1.5h-5.5M3 7.5h14M6.5 2v3M13.5 2v3M2.5 16h5M5.5 13.8l2.2 2.2l-2.2 2.2"/></svg>
<svg class="abs" style="left:1829px;top:751px" width="16" height="16" viewBox="0 0 16 16" fill="none" stroke="#2f55d4" stroke-width="1.2"><path d="M1.5 9.5h4.5v5M14 5.5h-4.5v-5"/></svg>

<!-- splitter -->
<div class="abs" style="left:8px;top:776px;width:1909px;height:9.5px;background:#1e222d"></div>
<div class="abs" style="left:949px;top:771px;width:27px;height:9px;background:#131722;border-radius:2px"></div>
<svg class="abs" style="left:955px;top:771px" width="16" height="9" viewBox="0 0 16 9" fill="none" stroke="#d1d4dc" stroke-width="1.2"><path d="M2.5 6.5l5.5-3.5l5.5 3.5"/></svg>

<!-- bottom panel -->
<div class="abs" style="left:0;top:837px;width:1917px;height:1px;background:#e8e8e8"></div>
<svg class="abs" style="left:18px;top:796px" width="34" height="32" viewBox="18 796 34 32"><path d="M21.5 799h9l8.8 8v15.5a1.5 1.5 0 0 1-1.5 1.5h-16.3a1.5 1.5 0 0 1-1.5-1.5v-22a1.5 1.5 0 0 1 1.5-1.5z" fill="#2479e0"/><path d="M30.5 799.3v7.4h8.3z" fill="#dce9fa"/><circle cx="41" cy="817" r="7.3" fill="#131722"/><circle cx="41" cy="817" r="6" fill="#fff"/><path d="M37.5 817h7M41 813.5v7" stroke="#131722" stroke-width="1.5"/></svg>
<div class="abs" style="left:793px;top:832.5px;width:116px;height:3px;background:#2f7de0;border-radius:1.5px"></div>
</body></html>
